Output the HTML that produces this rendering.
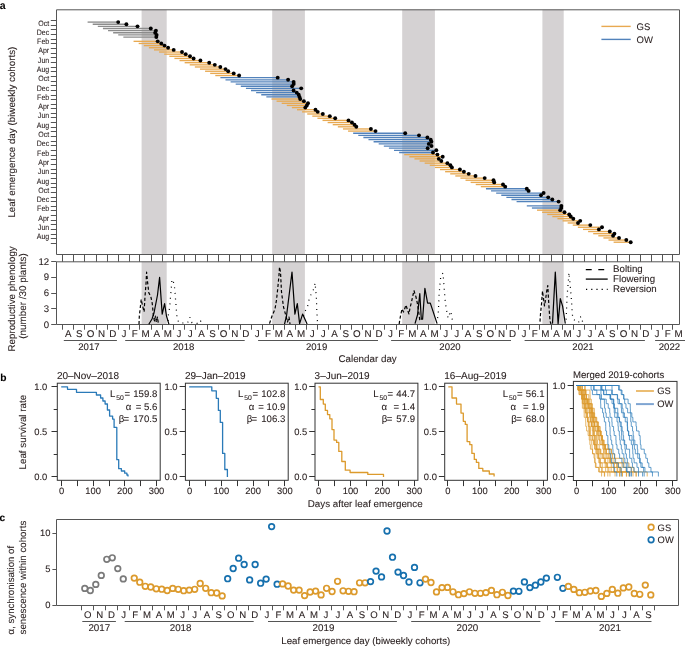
<!DOCTYPE html>
<html><head><meta charset="utf-8"><style>html,body{margin:0;padding:0;background:#fff;}svg{display:block;will-change:transform;}text{font-family:"Liberation Sans",sans-serif;stroke:#2b2222;stroke-width:0.08px;}</style></head><body>
<svg width="685" height="649" viewBox="0 0 685 649" font-family="Liberation Sans, sans-serif" text-rendering="geometricPrecision">
<rect width="685" height="649" fill="#fff"/>
<rect x="141.6" y="9.8" width="25.1" height="244.7" fill="#d5d2d3" stroke="none" stroke-width="1.0"/>
<rect x="141.6" y="261.8" width="25.1" height="62.7" fill="#d5d2d3" stroke="none" stroke-width="1.0"/>
<rect x="272.2" y="9.8" width="32.7" height="244.7" fill="#d5d2d3" stroke="none" stroke-width="1.0"/>
<rect x="272.2" y="261.8" width="32.7" height="62.7" fill="#d5d2d3" stroke="none" stroke-width="1.0"/>
<rect x="402.2" y="9.8" width="32.7" height="244.7" fill="#d5d2d3" stroke="none" stroke-width="1.0"/>
<rect x="402.2" y="261.8" width="32.7" height="62.7" fill="#d5d2d3" stroke="none" stroke-width="1.0"/>
<rect x="542.4" y="9.8" width="21.3" height="244.7" fill="#d5d2d3" stroke="none" stroke-width="1.0"/>
<rect x="542.4" y="261.8" width="21.3" height="62.7" fill="#d5d2d3" stroke="none" stroke-width="1.0"/>
<line x1="87.6" y1="22.1" x2="118.2" y2="22.1" stroke="#8c8c8c" stroke-width="1.35" />
<line x1="92.71" y1="24.24" x2="126.4" y2="24.24" stroke="#8c8c8c" stroke-width="1.35" />
<line x1="97.81" y1="26.37" x2="137.5" y2="26.37" stroke="#8c8c8c" stroke-width="1.35" />
<line x1="102.92" y1="28.51" x2="150.8" y2="28.51" stroke="#8c8c8c" stroke-width="1.35" />
<line x1="108.03" y1="30.65" x2="155.9" y2="30.65" stroke="#8c8c8c" stroke-width="1.35" />
<line x1="113.13" y1="32.79" x2="155.2" y2="32.79" stroke="#8c8c8c" stroke-width="1.35" />
<line x1="118.24" y1="34.92" x2="156.6" y2="34.92" stroke="#8c8c8c" stroke-width="1.35" />
<line x1="123.35" y1="37.06" x2="156.3" y2="37.06" stroke="#8c8c8c" stroke-width="1.35" />
<line x1="133.56" y1="41.33" x2="157.7" y2="41.33" stroke="#e8a951" stroke-width="1.35" />
<line x1="138.67" y1="43.47" x2="161.3" y2="43.47" stroke="#e8a951" stroke-width="1.35" />
<line x1="143.78" y1="45.61" x2="164.5" y2="45.61" stroke="#e8a951" stroke-width="1.35" />
<line x1="148.88" y1="47.74" x2="168.1" y2="47.74" stroke="#e8a951" stroke-width="1.35" />
<line x1="153.99" y1="49.88" x2="173.7" y2="49.88" stroke="#e8a951" stroke-width="1.35" />
<line x1="159.1" y1="52.02" x2="182" y2="52.02" stroke="#e8a951" stroke-width="1.35" />
<line x1="164.2" y1="54.16" x2="185.7" y2="54.16" stroke="#e8a951" stroke-width="1.35" />
<line x1="169.31" y1="56.29" x2="190" y2="56.29" stroke="#e8a951" stroke-width="1.35" />
<line x1="174.42" y1="58.43" x2="193.6" y2="58.43" stroke="#e8a951" stroke-width="1.35" />
<line x1="179.53" y1="60.57" x2="200.4" y2="60.57" stroke="#e8a951" stroke-width="1.35" />
<line x1="184.63" y1="62.7" x2="209.2" y2="62.7" stroke="#e8a951" stroke-width="1.35" />
<line x1="189.74" y1="64.84" x2="214.8" y2="64.84" stroke="#e8a951" stroke-width="1.35" />
<line x1="194.85" y1="66.98" x2="220.3" y2="66.98" stroke="#e8a951" stroke-width="1.35" />
<line x1="199.95" y1="69.11" x2="225.5" y2="69.11" stroke="#e8a951" stroke-width="1.35" />
<line x1="205.06" y1="71.25" x2="228.2" y2="71.25" stroke="#e8a951" stroke-width="1.35" />
<line x1="210.17" y1="73.39" x2="233.7" y2="73.39" stroke="#e8a951" stroke-width="1.35" />
<line x1="215.28" y1="75.53" x2="239.1" y2="75.53" stroke="#e8a951" stroke-width="1.35" />
<line x1="220.38" y1="77.66" x2="277.7" y2="77.66" stroke="#5282bb" stroke-width="1.35" />
<line x1="225.49" y1="79.8" x2="288.1" y2="79.8" stroke="#5282bb" stroke-width="1.35" />
<line x1="230.6" y1="81.94" x2="293.6" y2="81.94" stroke="#5282bb" stroke-width="1.35" />
<line x1="235.7" y1="84.07" x2="293.7" y2="84.07" stroke="#5282bb" stroke-width="1.35" />
<line x1="240.81" y1="86.21" x2="292.1" y2="86.21" stroke="#5282bb" stroke-width="1.35" />
<line x1="245.92" y1="88.35" x2="301.2" y2="88.35" stroke="#5282bb" stroke-width="1.35" />
<line x1="251.02" y1="90.48" x2="293.6" y2="90.48" stroke="#5282bb" stroke-width="1.35" />
<line x1="256.13" y1="92.62" x2="296.7" y2="92.62" stroke="#5282bb" stroke-width="1.35" />
<line x1="261.24" y1="94.76" x2="298.7" y2="94.76" stroke="#5282bb" stroke-width="1.35" />
<line x1="266.35" y1="96.9" x2="299.5" y2="96.9" stroke="#5282bb" stroke-width="1.35" />
<line x1="271.45" y1="99.03" x2="300.2" y2="99.03" stroke="#e8a951" stroke-width="1.35" />
<line x1="276.56" y1="101.17" x2="303.9" y2="101.17" stroke="#e8a951" stroke-width="1.35" />
<line x1="281.67" y1="103.31" x2="308" y2="103.31" stroke="#e8a951" stroke-width="1.35" />
<line x1="286.77" y1="105.44" x2="306.8" y2="105.44" stroke="#e8a951" stroke-width="1.35" />
<line x1="291.88" y1="107.58" x2="305.3" y2="107.58" stroke="#e8a951" stroke-width="1.35" />
<line x1="296.99" y1="109.72" x2="315.5" y2="109.72" stroke="#e8a951" stroke-width="1.35" />
<line x1="302.09" y1="111.85" x2="317.7" y2="111.85" stroke="#e8a951" stroke-width="1.35" />
<line x1="307.2" y1="113.99" x2="322.8" y2="113.99" stroke="#e8a951" stroke-width="1.35" />
<line x1="312.31" y1="116.13" x2="329.8" y2="116.13" stroke="#e8a951" stroke-width="1.35" />
<line x1="317.41" y1="118.27" x2="335.2" y2="118.27" stroke="#e8a951" stroke-width="1.35" />
<line x1="322.52" y1="120.4" x2="348.5" y2="120.4" stroke="#e8a951" stroke-width="1.35" />
<line x1="327.63" y1="122.54" x2="351.9" y2="122.54" stroke="#e8a951" stroke-width="1.35" />
<line x1="332.74" y1="124.68" x2="354.5" y2="124.68" stroke="#e8a951" stroke-width="1.35" />
<line x1="337.84" y1="126.81" x2="356.3" y2="126.81" stroke="#e8a951" stroke-width="1.35" />
<line x1="342.95" y1="128.95" x2="370.9" y2="128.95" stroke="#e8a951" stroke-width="1.35" />
<line x1="348.06" y1="131.09" x2="375.5" y2="131.09" stroke="#e8a951" stroke-width="1.35" />
<line x1="353.16" y1="133.22" x2="405.2" y2="133.22" stroke="#5282bb" stroke-width="1.35" />
<line x1="358.27" y1="135.36" x2="419" y2="135.36" stroke="#5282bb" stroke-width="1.35" />
<line x1="363.38" y1="137.5" x2="427.4" y2="137.5" stroke="#5282bb" stroke-width="1.35" />
<line x1="368.49" y1="139.63" x2="430.7" y2="139.63" stroke="#5282bb" stroke-width="1.35" />
<line x1="373.59" y1="141.77" x2="431.4" y2="141.77" stroke="#5282bb" stroke-width="1.35" />
<line x1="378.7" y1="143.91" x2="428.8" y2="143.91" stroke="#5282bb" stroke-width="1.35" />
<line x1="383.81" y1="146.05" x2="431.5" y2="146.05" stroke="#5282bb" stroke-width="1.35" />
<line x1="388.91" y1="148.18" x2="427.7" y2="148.18" stroke="#5282bb" stroke-width="1.35" />
<line x1="394.02" y1="150.32" x2="436.3" y2="150.32" stroke="#5282bb" stroke-width="1.35" />
<line x1="399.13" y1="152.46" x2="433" y2="152.46" stroke="#5282bb" stroke-width="1.35" />
<line x1="404.23" y1="154.59" x2="437.4" y2="154.59" stroke="#e8a951" stroke-width="1.35" />
<line x1="409.34" y1="156.73" x2="442.7" y2="156.73" stroke="#e8a951" stroke-width="1.35" />
<line x1="414.45" y1="158.87" x2="438.8" y2="158.87" stroke="#e8a951" stroke-width="1.35" />
<line x1="419.56" y1="161" x2="441.3" y2="161" stroke="#e8a951" stroke-width="1.35" />
<line x1="424.66" y1="163.14" x2="447.4" y2="163.14" stroke="#e8a951" stroke-width="1.35" />
<line x1="429.77" y1="165.28" x2="450.4" y2="165.28" stroke="#e8a951" stroke-width="1.35" />
<line x1="434.88" y1="167.42" x2="451.9" y2="167.42" stroke="#e8a951" stroke-width="1.35" />
<line x1="439.98" y1="169.55" x2="459.9" y2="169.55" stroke="#e8a951" stroke-width="1.35" />
<line x1="445.09" y1="171.69" x2="463.9" y2="171.69" stroke="#e8a951" stroke-width="1.35" />
<line x1="450.2" y1="173.83" x2="468.7" y2="173.83" stroke="#e8a951" stroke-width="1.35" />
<line x1="455.3" y1="175.96" x2="475.5" y2="175.96" stroke="#e8a951" stroke-width="1.35" />
<line x1="460.41" y1="178.1" x2="484.7" y2="178.1" stroke="#e8a951" stroke-width="1.35" />
<line x1="465.52" y1="180.24" x2="493.5" y2="180.24" stroke="#e8a951" stroke-width="1.35" />
<line x1="470.62" y1="182.38" x2="494.2" y2="182.38" stroke="#e8a951" stroke-width="1.35" />
<line x1="475.73" y1="184.51" x2="503" y2="184.51" stroke="#e8a951" stroke-width="1.35" />
<line x1="480.84" y1="186.65" x2="505.2" y2="186.65" stroke="#e8a951" stroke-width="1.35" />
<line x1="485.95" y1="188.79" x2="526.8" y2="188.79" stroke="#5282bb" stroke-width="1.35" />
<line x1="491.05" y1="190.92" x2="528.6" y2="190.92" stroke="#5282bb" stroke-width="1.35" />
<line x1="496.16" y1="193.06" x2="543.6" y2="193.06" stroke="#5282bb" stroke-width="1.35" />
<line x1="501.27" y1="195.2" x2="541" y2="195.2" stroke="#5282bb" stroke-width="1.35" />
<line x1="506.37" y1="197.33" x2="548.2" y2="197.33" stroke="#5282bb" stroke-width="1.35" />
<line x1="511.48" y1="199.47" x2="552.3" y2="199.47" stroke="#5282bb" stroke-width="1.35" />
<line x1="516.59" y1="201.61" x2="558.6" y2="201.61" stroke="#5282bb" stroke-width="1.35" />
<line x1="526.8" y1="205.88" x2="561.4" y2="205.88" stroke="#5282bb" stroke-width="1.35" />
<line x1="531.91" y1="208.02" x2="561.3" y2="208.02" stroke="#5282bb" stroke-width="1.35" />
<line x1="537.02" y1="210.16" x2="560.2" y2="210.16" stroke="#e8a951" stroke-width="1.35" />
<line x1="542.12" y1="212.29" x2="564.5" y2="212.29" stroke="#e8a951" stroke-width="1.35" />
<line x1="547.23" y1="214.43" x2="569.2" y2="214.43" stroke="#e8a951" stroke-width="1.35" />
<line x1="552.34" y1="216.57" x2="570.7" y2="216.57" stroke="#e8a951" stroke-width="1.35" />
<line x1="557.44" y1="218.7" x2="573.3" y2="218.7" stroke="#e8a951" stroke-width="1.35" />
<line x1="562.55" y1="220.84" x2="580.2" y2="220.84" stroke="#e8a951" stroke-width="1.35" />
<line x1="567.66" y1="222.98" x2="578" y2="222.98" stroke="#e8a951" stroke-width="1.35" />
<line x1="572.76" y1="225.12" x2="590.3" y2="225.12" stroke="#e8a951" stroke-width="1.35" />
<line x1="577.87" y1="227.25" x2="602" y2="227.25" stroke="#e8a951" stroke-width="1.35" />
<line x1="582.98" y1="229.39" x2="598.9" y2="229.39" stroke="#e8a951" stroke-width="1.35" />
<line x1="588.09" y1="231.53" x2="609.8" y2="231.53" stroke="#e8a951" stroke-width="1.35" />
<line x1="593.19" y1="233.66" x2="614.4" y2="233.66" stroke="#e8a951" stroke-width="1.35" />
<line x1="598.3" y1="235.8" x2="613.1" y2="235.8" stroke="#e8a951" stroke-width="1.35" />
<line x1="603.41" y1="237.94" x2="619" y2="237.94" stroke="#e8a951" stroke-width="1.35" />
<line x1="608.51" y1="240.07" x2="626.3" y2="240.07" stroke="#e8a951" stroke-width="1.35" />
<line x1="613.62" y1="242.21" x2="630.7" y2="242.21" stroke="#e8a951" stroke-width="1.35" />
<circle cx="118.2" cy="22.1" r="1.95" fill="#000"/>
<circle cx="126.4" cy="24.24" r="1.95" fill="#000"/>
<circle cx="137.5" cy="26.37" r="1.95" fill="#000"/>
<circle cx="150.8" cy="28.51" r="1.95" fill="#000"/>
<circle cx="155.9" cy="30.65" r="1.95" fill="#000"/>
<circle cx="155.2" cy="32.79" r="1.95" fill="#000"/>
<circle cx="156.6" cy="34.92" r="1.95" fill="#000"/>
<circle cx="156.3" cy="37.06" r="1.95" fill="#000"/>
<circle cx="157.7" cy="41.33" r="1.95" fill="#000"/>
<circle cx="161.3" cy="43.47" r="1.95" fill="#000"/>
<circle cx="164.5" cy="45.61" r="1.95" fill="#000"/>
<circle cx="168.1" cy="47.74" r="1.95" fill="#000"/>
<circle cx="173.7" cy="49.88" r="1.95" fill="#000"/>
<circle cx="182" cy="52.02" r="1.95" fill="#000"/>
<circle cx="185.7" cy="54.16" r="1.95" fill="#000"/>
<circle cx="190" cy="56.29" r="1.95" fill="#000"/>
<circle cx="193.6" cy="58.43" r="1.95" fill="#000"/>
<circle cx="200.4" cy="60.57" r="1.95" fill="#000"/>
<circle cx="209.2" cy="62.7" r="1.95" fill="#000"/>
<circle cx="214.8" cy="64.84" r="1.95" fill="#000"/>
<circle cx="220.3" cy="66.98" r="1.95" fill="#000"/>
<circle cx="225.5" cy="69.11" r="1.95" fill="#000"/>
<circle cx="228.2" cy="71.25" r="1.95" fill="#000"/>
<circle cx="233.7" cy="73.39" r="1.95" fill="#000"/>
<circle cx="239.1" cy="75.53" r="1.95" fill="#000"/>
<circle cx="277.7" cy="77.66" r="1.95" fill="#000"/>
<circle cx="288.1" cy="79.8" r="1.95" fill="#000"/>
<circle cx="293.6" cy="81.94" r="1.95" fill="#000"/>
<circle cx="293.7" cy="84.07" r="1.95" fill="#000"/>
<circle cx="292.1" cy="86.21" r="1.95" fill="#000"/>
<circle cx="301.2" cy="88.35" r="1.95" fill="#000"/>
<circle cx="293.6" cy="90.48" r="1.95" fill="#000"/>
<circle cx="296.7" cy="92.62" r="1.95" fill="#000"/>
<circle cx="298.7" cy="94.76" r="1.95" fill="#000"/>
<circle cx="299.5" cy="96.9" r="1.95" fill="#000"/>
<circle cx="300.2" cy="99.03" r="1.95" fill="#000"/>
<circle cx="303.9" cy="101.17" r="1.95" fill="#000"/>
<circle cx="308" cy="103.31" r="1.95" fill="#000"/>
<circle cx="306.8" cy="105.44" r="1.95" fill="#000"/>
<circle cx="305.3" cy="107.58" r="1.95" fill="#000"/>
<circle cx="315.5" cy="109.72" r="1.95" fill="#000"/>
<circle cx="317.7" cy="111.85" r="1.95" fill="#000"/>
<circle cx="322.8" cy="113.99" r="1.95" fill="#000"/>
<circle cx="329.8" cy="116.13" r="1.95" fill="#000"/>
<circle cx="335.2" cy="118.27" r="1.95" fill="#000"/>
<circle cx="348.5" cy="120.4" r="1.95" fill="#000"/>
<circle cx="351.9" cy="122.54" r="1.95" fill="#000"/>
<circle cx="354.5" cy="124.68" r="1.95" fill="#000"/>
<circle cx="356.3" cy="126.81" r="1.95" fill="#000"/>
<circle cx="370.9" cy="128.95" r="1.95" fill="#000"/>
<circle cx="375.5" cy="131.09" r="1.95" fill="#000"/>
<circle cx="405.2" cy="133.22" r="1.95" fill="#000"/>
<circle cx="419" cy="135.36" r="1.95" fill="#000"/>
<circle cx="427.4" cy="137.5" r="1.95" fill="#000"/>
<circle cx="430.7" cy="139.63" r="1.95" fill="#000"/>
<circle cx="431.4" cy="141.77" r="1.95" fill="#000"/>
<circle cx="428.8" cy="143.91" r="1.95" fill="#000"/>
<circle cx="431.5" cy="146.05" r="1.95" fill="#000"/>
<circle cx="427.7" cy="148.18" r="1.95" fill="#000"/>
<circle cx="436.3" cy="150.32" r="1.95" fill="#000"/>
<circle cx="433" cy="152.46" r="1.95" fill="#000"/>
<circle cx="437.4" cy="154.59" r="1.95" fill="#000"/>
<circle cx="442.7" cy="156.73" r="1.95" fill="#000"/>
<circle cx="438.8" cy="158.87" r="1.95" fill="#000"/>
<circle cx="441.3" cy="161" r="1.95" fill="#000"/>
<circle cx="447.4" cy="163.14" r="1.95" fill="#000"/>
<circle cx="450.4" cy="165.28" r="1.95" fill="#000"/>
<circle cx="451.9" cy="167.42" r="1.95" fill="#000"/>
<circle cx="459.9" cy="169.55" r="1.95" fill="#000"/>
<circle cx="463.9" cy="171.69" r="1.95" fill="#000"/>
<circle cx="468.7" cy="173.83" r="1.95" fill="#000"/>
<circle cx="475.5" cy="175.96" r="1.95" fill="#000"/>
<circle cx="484.7" cy="178.1" r="1.95" fill="#000"/>
<circle cx="493.5" cy="180.24" r="1.95" fill="#000"/>
<circle cx="494.2" cy="182.38" r="1.95" fill="#000"/>
<circle cx="503" cy="184.51" r="1.95" fill="#000"/>
<circle cx="505.2" cy="186.65" r="1.95" fill="#000"/>
<circle cx="526.8" cy="188.79" r="1.95" fill="#000"/>
<circle cx="528.6" cy="190.92" r="1.95" fill="#000"/>
<circle cx="543.6" cy="193.06" r="1.95" fill="#000"/>
<circle cx="541" cy="195.2" r="1.95" fill="#000"/>
<circle cx="548.2" cy="197.33" r="1.95" fill="#000"/>
<circle cx="552.3" cy="199.47" r="1.95" fill="#000"/>
<circle cx="558.6" cy="201.61" r="1.95" fill="#000"/>
<circle cx="561.4" cy="205.88" r="1.95" fill="#000"/>
<circle cx="561.3" cy="208.02" r="1.95" fill="#000"/>
<circle cx="560.2" cy="210.16" r="1.95" fill="#000"/>
<circle cx="564.5" cy="212.29" r="1.95" fill="#000"/>
<circle cx="569.2" cy="214.43" r="1.95" fill="#000"/>
<circle cx="570.7" cy="216.57" r="1.95" fill="#000"/>
<circle cx="573.3" cy="218.7" r="1.95" fill="#000"/>
<circle cx="580.2" cy="220.84" r="1.95" fill="#000"/>
<circle cx="578" cy="222.98" r="1.95" fill="#000"/>
<circle cx="590.3" cy="225.12" r="1.95" fill="#000"/>
<circle cx="602" cy="227.25" r="1.95" fill="#000"/>
<circle cx="598.9" cy="229.39" r="1.95" fill="#000"/>
<circle cx="609.8" cy="231.53" r="1.95" fill="#000"/>
<circle cx="614.4" cy="233.66" r="1.95" fill="#000"/>
<circle cx="613.1" cy="235.8" r="1.95" fill="#000"/>
<circle cx="619" cy="237.94" r="1.95" fill="#000"/>
<circle cx="626.3" cy="240.07" r="1.95" fill="#000"/>
<circle cx="630.7" cy="242.21" r="1.95" fill="#000"/>
<path d="M56.5,9.8 H679.5 V254.5 H56.5 Z" fill="none" stroke="#555555" stroke-width="1"/>
<path d="M56.5,261.8 H679.5 V324.5 H56.5 Z" fill="none" stroke="#555555" stroke-width="1"/>
<line x1="50.8" y1="20.5" x2="56.5" y2="20.5" stroke="#555555" stroke-width="1" />
<line x1="50.8" y1="25.5" x2="56.5" y2="25.5" stroke="#555555" stroke-width="1" />
<line x1="50.8" y1="29.5" x2="56.5" y2="29.5" stroke="#555555" stroke-width="1" />
<line x1="50.8" y1="34.5" x2="56.5" y2="34.5" stroke="#555555" stroke-width="1" />
<line x1="50.8" y1="39.5" x2="56.5" y2="39.5" stroke="#555555" stroke-width="1" />
<line x1="50.8" y1="43.5" x2="56.5" y2="43.5" stroke="#555555" stroke-width="1" />
<line x1="50.8" y1="48.5" x2="56.5" y2="48.5" stroke="#555555" stroke-width="1" />
<line x1="50.8" y1="53.5" x2="56.5" y2="53.5" stroke="#555555" stroke-width="1" />
<line x1="50.8" y1="57.5" x2="56.5" y2="57.5" stroke="#555555" stroke-width="1" />
<line x1="50.8" y1="62.5" x2="56.5" y2="62.5" stroke="#555555" stroke-width="1" />
<line x1="50.8" y1="67.5" x2="56.5" y2="67.5" stroke="#555555" stroke-width="1" />
<line x1="50.8" y1="71.5" x2="56.5" y2="71.5" stroke="#555555" stroke-width="1" />
<line x1="50.8" y1="76.5" x2="56.5" y2="76.5" stroke="#555555" stroke-width="1" />
<line x1="50.8" y1="81.5" x2="56.5" y2="81.5" stroke="#555555" stroke-width="1" />
<line x1="50.8" y1="85.5" x2="56.5" y2="85.5" stroke="#555555" stroke-width="1" />
<line x1="50.8" y1="90.5" x2="56.5" y2="90.5" stroke="#555555" stroke-width="1" />
<line x1="50.8" y1="95.5" x2="56.5" y2="95.5" stroke="#555555" stroke-width="1" />
<line x1="50.8" y1="99.5" x2="56.5" y2="99.5" stroke="#555555" stroke-width="1" />
<line x1="50.8" y1="104.5" x2="56.5" y2="104.5" stroke="#555555" stroke-width="1" />
<line x1="50.8" y1="108.5" x2="56.5" y2="108.5" stroke="#555555" stroke-width="1" />
<line x1="50.8" y1="113.5" x2="56.5" y2="113.5" stroke="#555555" stroke-width="1" />
<line x1="50.8" y1="117.5" x2="56.5" y2="117.5" stroke="#555555" stroke-width="1" />
<line x1="50.8" y1="122.5" x2="56.5" y2="122.5" stroke="#555555" stroke-width="1" />
<line x1="50.8" y1="127.5" x2="56.5" y2="127.5" stroke="#555555" stroke-width="1" />
<line x1="50.8" y1="131.5" x2="56.5" y2="131.5" stroke="#555555" stroke-width="1" />
<line x1="50.8" y1="136.5" x2="56.5" y2="136.5" stroke="#555555" stroke-width="1" />
<line x1="50.8" y1="141.5" x2="56.5" y2="141.5" stroke="#555555" stroke-width="1" />
<line x1="50.8" y1="145.5" x2="56.5" y2="145.5" stroke="#555555" stroke-width="1" />
<line x1="50.8" y1="150.5" x2="56.5" y2="150.5" stroke="#555555" stroke-width="1" />
<line x1="50.8" y1="155.5" x2="56.5" y2="155.5" stroke="#555555" stroke-width="1" />
<line x1="50.8" y1="159.5" x2="56.5" y2="159.5" stroke="#555555" stroke-width="1" />
<line x1="50.8" y1="164.5" x2="56.5" y2="164.5" stroke="#555555" stroke-width="1" />
<line x1="50.8" y1="169.5" x2="56.5" y2="169.5" stroke="#555555" stroke-width="1" />
<line x1="50.8" y1="173.5" x2="56.5" y2="173.5" stroke="#555555" stroke-width="1" />
<line x1="50.8" y1="178.5" x2="56.5" y2="178.5" stroke="#555555" stroke-width="1" />
<line x1="50.8" y1="183.5" x2="56.5" y2="183.5" stroke="#555555" stroke-width="1" />
<line x1="50.8" y1="187.5" x2="56.5" y2="187.5" stroke="#555555" stroke-width="1" />
<line x1="50.8" y1="192.5" x2="56.5" y2="192.5" stroke="#555555" stroke-width="1" />
<line x1="50.8" y1="197.5" x2="56.5" y2="197.5" stroke="#555555" stroke-width="1" />
<line x1="50.8" y1="201.5" x2="56.5" y2="201.5" stroke="#555555" stroke-width="1" />
<line x1="50.8" y1="206.5" x2="56.5" y2="206.5" stroke="#555555" stroke-width="1" />
<line x1="50.8" y1="210.5" x2="56.5" y2="210.5" stroke="#555555" stroke-width="1" />
<line x1="50.8" y1="215.5" x2="56.5" y2="215.5" stroke="#555555" stroke-width="1" />
<line x1="50.8" y1="220.5" x2="56.5" y2="220.5" stroke="#555555" stroke-width="1" />
<line x1="50.8" y1="224.5" x2="56.5" y2="224.5" stroke="#555555" stroke-width="1" />
<line x1="50.8" y1="229.5" x2="56.5" y2="229.5" stroke="#555555" stroke-width="1" />
<line x1="50.8" y1="234.5" x2="56.5" y2="234.5" stroke="#555555" stroke-width="1" />
<line x1="50.8" y1="238.5" x2="56.5" y2="238.5" stroke="#555555" stroke-width="1" />
<line x1="50.8" y1="243.5" x2="56.5" y2="243.5" stroke="#555555" stroke-width="1" />
<text x="49.2" y="25.81" font-size="7.8" text-anchor="end" fill="#2b2222" transform="translate(49.2 0) scale(0.9 1) translate(-49.2 0)">Oct</text>
<text x="49.2" y="35.11" font-size="7.8" text-anchor="end" fill="#2b2222" transform="translate(49.2 0) scale(0.9 1) translate(-49.2 0)">Dec</text>
<text x="49.2" y="44.33" font-size="7.8" text-anchor="end" fill="#2b2222" transform="translate(49.2 0) scale(0.9 1) translate(-49.2 0)">Feb</text>
<text x="49.2" y="53.48" font-size="7.8" text-anchor="end" fill="#2b2222" transform="translate(49.2 0) scale(0.9 1) translate(-49.2 0)">Apr</text>
<text x="49.2" y="62.78" font-size="7.8" text-anchor="end" fill="#2b2222" transform="translate(49.2 0) scale(0.9 1) translate(-49.2 0)">Jun</text>
<text x="49.2" y="72.15" font-size="7.8" text-anchor="end" fill="#2b2222" transform="translate(49.2 0) scale(0.9 1) translate(-49.2 0)">Aug</text>
<text x="49.2" y="81.45" font-size="7.8" text-anchor="end" fill="#2b2222" transform="translate(49.2 0) scale(0.9 1) translate(-49.2 0)">Oct</text>
<text x="49.2" y="90.75" font-size="7.8" text-anchor="end" fill="#2b2222" transform="translate(49.2 0) scale(0.9 1) translate(-49.2 0)">Dec</text>
<text x="49.2" y="99.97" font-size="7.8" text-anchor="end" fill="#2b2222" transform="translate(49.2 0) scale(0.9 1) translate(-49.2 0)">Feb</text>
<text x="49.2" y="109.12" font-size="7.8" text-anchor="end" fill="#2b2222" transform="translate(49.2 0) scale(0.9 1) translate(-49.2 0)">Apr</text>
<text x="49.2" y="118.41" font-size="7.8" text-anchor="end" fill="#2b2222" transform="translate(49.2 0) scale(0.9 1) translate(-49.2 0)">Jun</text>
<text x="49.2" y="127.79" font-size="7.8" text-anchor="end" fill="#2b2222" transform="translate(49.2 0) scale(0.9 1) translate(-49.2 0)">Aug</text>
<text x="49.2" y="137.09" font-size="7.8" text-anchor="end" fill="#2b2222" transform="translate(49.2 0) scale(0.9 1) translate(-49.2 0)">Oct</text>
<text x="49.2" y="146.38" font-size="7.8" text-anchor="end" fill="#2b2222" transform="translate(49.2 0) scale(0.9 1) translate(-49.2 0)">Dec</text>
<text x="49.2" y="155.68" font-size="7.8" text-anchor="end" fill="#2b2222" transform="translate(49.2 0) scale(0.9 1) translate(-49.2 0)">Feb</text>
<text x="49.2" y="164.91" font-size="7.8" text-anchor="end" fill="#2b2222" transform="translate(49.2 0) scale(0.9 1) translate(-49.2 0)">Apr</text>
<text x="49.2" y="174.2" font-size="7.8" text-anchor="end" fill="#2b2222" transform="translate(49.2 0) scale(0.9 1) translate(-49.2 0)">Jun</text>
<text x="49.2" y="183.58" font-size="7.8" text-anchor="end" fill="#2b2222" transform="translate(49.2 0) scale(0.9 1) translate(-49.2 0)">Aug</text>
<text x="49.2" y="192.88" font-size="7.8" text-anchor="end" fill="#2b2222" transform="translate(49.2 0) scale(0.9 1) translate(-49.2 0)">Oct</text>
<text x="49.2" y="202.17" font-size="7.8" text-anchor="end" fill="#2b2222" transform="translate(49.2 0) scale(0.9 1) translate(-49.2 0)">Dec</text>
<text x="49.2" y="211.4" font-size="7.8" text-anchor="end" fill="#2b2222" transform="translate(49.2 0) scale(0.9 1) translate(-49.2 0)">Feb</text>
<text x="49.2" y="220.54" font-size="7.8" text-anchor="end" fill="#2b2222" transform="translate(49.2 0) scale(0.9 1) translate(-49.2 0)">Apr</text>
<text x="49.2" y="229.84" font-size="7.8" text-anchor="end" fill="#2b2222" transform="translate(49.2 0) scale(0.9 1) translate(-49.2 0)">Jun</text>
<text x="49.2" y="239.21" font-size="7.8" text-anchor="end" fill="#2b2222" transform="translate(49.2 0) scale(0.9 1) translate(-49.2 0)">Aug</text>
<line x1="62.5" y1="254.5" x2="62.5" y2="261.8" stroke="#555555" stroke-width="1" />
<line x1="62.5" y1="324.5" x2="62.5" y2="329.7" stroke="#555555" stroke-width="1" />
<line x1="73.5" y1="254.5" x2="73.5" y2="261.8" stroke="#555555" stroke-width="1" />
<line x1="73.5" y1="324.5" x2="73.5" y2="329.7" stroke="#555555" stroke-width="1" />
<line x1="84.5" y1="254.5" x2="84.5" y2="261.8" stroke="#555555" stroke-width="1" />
<line x1="84.5" y1="324.5" x2="84.5" y2="329.7" stroke="#555555" stroke-width="1" />
<line x1="96.5" y1="254.5" x2="96.5" y2="261.8" stroke="#555555" stroke-width="1" />
<line x1="96.5" y1="324.5" x2="96.5" y2="329.7" stroke="#555555" stroke-width="1" />
<line x1="107.5" y1="254.5" x2="107.5" y2="261.8" stroke="#555555" stroke-width="1" />
<line x1="107.5" y1="324.5" x2="107.5" y2="329.7" stroke="#555555" stroke-width="1" />
<line x1="118.5" y1="254.5" x2="118.5" y2="261.8" stroke="#555555" stroke-width="1" />
<line x1="118.5" y1="324.5" x2="118.5" y2="329.7" stroke="#555555" stroke-width="1" />
<line x1="129.5" y1="254.5" x2="129.5" y2="261.8" stroke="#555555" stroke-width="1" />
<line x1="129.5" y1="324.5" x2="129.5" y2="329.7" stroke="#555555" stroke-width="1" />
<line x1="139.5" y1="254.5" x2="139.5" y2="261.8" stroke="#555555" stroke-width="1" />
<line x1="139.5" y1="324.5" x2="139.5" y2="329.7" stroke="#555555" stroke-width="1" />
<line x1="151.5" y1="254.5" x2="151.5" y2="261.8" stroke="#555555" stroke-width="1" />
<line x1="151.5" y1="324.5" x2="151.5" y2="329.7" stroke="#555555" stroke-width="1" />
<line x1="162.5" y1="254.5" x2="162.5" y2="261.8" stroke="#555555" stroke-width="1" />
<line x1="162.5" y1="324.5" x2="162.5" y2="329.7" stroke="#555555" stroke-width="1" />
<line x1="173.5" y1="254.5" x2="173.5" y2="261.8" stroke="#555555" stroke-width="1" />
<line x1="173.5" y1="324.5" x2="173.5" y2="329.7" stroke="#555555" stroke-width="1" />
<line x1="184.5" y1="254.5" x2="184.5" y2="261.8" stroke="#555555" stroke-width="1" />
<line x1="184.5" y1="324.5" x2="184.5" y2="329.7" stroke="#555555" stroke-width="1" />
<line x1="195.5" y1="254.5" x2="195.5" y2="261.8" stroke="#555555" stroke-width="1" />
<line x1="195.5" y1="324.5" x2="195.5" y2="329.7" stroke="#555555" stroke-width="1" />
<line x1="207.5" y1="254.5" x2="207.5" y2="261.8" stroke="#555555" stroke-width="1" />
<line x1="207.5" y1="324.5" x2="207.5" y2="329.7" stroke="#555555" stroke-width="1" />
<line x1="218.5" y1="254.5" x2="218.5" y2="261.8" stroke="#555555" stroke-width="1" />
<line x1="218.5" y1="324.5" x2="218.5" y2="329.7" stroke="#555555" stroke-width="1" />
<line x1="229.5" y1="254.5" x2="229.5" y2="261.8" stroke="#555555" stroke-width="1" />
<line x1="229.5" y1="324.5" x2="229.5" y2="329.7" stroke="#555555" stroke-width="1" />
<line x1="240.5" y1="254.5" x2="240.5" y2="261.8" stroke="#555555" stroke-width="1" />
<line x1="240.5" y1="324.5" x2="240.5" y2="329.7" stroke="#555555" stroke-width="1" />
<line x1="251.5" y1="254.5" x2="251.5" y2="261.8" stroke="#555555" stroke-width="1" />
<line x1="251.5" y1="324.5" x2="251.5" y2="329.7" stroke="#555555" stroke-width="1" />
<line x1="262.5" y1="254.5" x2="262.5" y2="261.8" stroke="#555555" stroke-width="1" />
<line x1="262.5" y1="324.5" x2="262.5" y2="329.7" stroke="#555555" stroke-width="1" />
<line x1="273.5" y1="254.5" x2="273.5" y2="261.8" stroke="#555555" stroke-width="1" />
<line x1="273.5" y1="324.5" x2="273.5" y2="329.7" stroke="#555555" stroke-width="1" />
<line x1="284.5" y1="254.5" x2="284.5" y2="261.8" stroke="#555555" stroke-width="1" />
<line x1="284.5" y1="324.5" x2="284.5" y2="329.7" stroke="#555555" stroke-width="1" />
<line x1="295.5" y1="254.5" x2="295.5" y2="261.8" stroke="#555555" stroke-width="1" />
<line x1="295.5" y1="324.5" x2="295.5" y2="329.7" stroke="#555555" stroke-width="1" />
<line x1="306.5" y1="254.5" x2="306.5" y2="261.8" stroke="#555555" stroke-width="1" />
<line x1="306.5" y1="324.5" x2="306.5" y2="329.7" stroke="#555555" stroke-width="1" />
<line x1="317.5" y1="254.5" x2="317.5" y2="261.8" stroke="#555555" stroke-width="1" />
<line x1="317.5" y1="324.5" x2="317.5" y2="329.7" stroke="#555555" stroke-width="1" />
<line x1="328.5" y1="254.5" x2="328.5" y2="261.8" stroke="#555555" stroke-width="1" />
<line x1="328.5" y1="324.5" x2="328.5" y2="329.7" stroke="#555555" stroke-width="1" />
<line x1="340.5" y1="254.5" x2="340.5" y2="261.8" stroke="#555555" stroke-width="1" />
<line x1="340.5" y1="324.5" x2="340.5" y2="329.7" stroke="#555555" stroke-width="1" />
<line x1="351.5" y1="254.5" x2="351.5" y2="261.8" stroke="#555555" stroke-width="1" />
<line x1="351.5" y1="324.5" x2="351.5" y2="329.7" stroke="#555555" stroke-width="1" />
<line x1="362.5" y1="254.5" x2="362.5" y2="261.8" stroke="#555555" stroke-width="1" />
<line x1="362.5" y1="324.5" x2="362.5" y2="329.7" stroke="#555555" stroke-width="1" />
<line x1="373.5" y1="254.5" x2="373.5" y2="261.8" stroke="#555555" stroke-width="1" />
<line x1="373.5" y1="324.5" x2="373.5" y2="329.7" stroke="#555555" stroke-width="1" />
<line x1="384.5" y1="254.5" x2="384.5" y2="261.8" stroke="#555555" stroke-width="1" />
<line x1="384.5" y1="324.5" x2="384.5" y2="329.7" stroke="#555555" stroke-width="1" />
<line x1="396.5" y1="254.5" x2="396.5" y2="261.8" stroke="#555555" stroke-width="1" />
<line x1="396.5" y1="324.5" x2="396.5" y2="329.7" stroke="#555555" stroke-width="1" />
<line x1="406.5" y1="254.5" x2="406.5" y2="261.8" stroke="#555555" stroke-width="1" />
<line x1="406.5" y1="324.5" x2="406.5" y2="329.7" stroke="#555555" stroke-width="1" />
<line x1="417.5" y1="254.5" x2="417.5" y2="261.8" stroke="#555555" stroke-width="1" />
<line x1="417.5" y1="324.5" x2="417.5" y2="329.7" stroke="#555555" stroke-width="1" />
<line x1="428.5" y1="254.5" x2="428.5" y2="261.8" stroke="#555555" stroke-width="1" />
<line x1="428.5" y1="324.5" x2="428.5" y2="329.7" stroke="#555555" stroke-width="1" />
<line x1="440.5" y1="254.5" x2="440.5" y2="261.8" stroke="#555555" stroke-width="1" />
<line x1="440.5" y1="324.5" x2="440.5" y2="329.7" stroke="#555555" stroke-width="1" />
<line x1="451.5" y1="254.5" x2="451.5" y2="261.8" stroke="#555555" stroke-width="1" />
<line x1="451.5" y1="324.5" x2="451.5" y2="329.7" stroke="#555555" stroke-width="1" />
<line x1="462.5" y1="254.5" x2="462.5" y2="261.8" stroke="#555555" stroke-width="1" />
<line x1="462.5" y1="324.5" x2="462.5" y2="329.7" stroke="#555555" stroke-width="1" />
<line x1="473.5" y1="254.5" x2="473.5" y2="261.8" stroke="#555555" stroke-width="1" />
<line x1="473.5" y1="324.5" x2="473.5" y2="329.7" stroke="#555555" stroke-width="1" />
<line x1="484.5" y1="254.5" x2="484.5" y2="261.8" stroke="#555555" stroke-width="1" />
<line x1="484.5" y1="324.5" x2="484.5" y2="329.7" stroke="#555555" stroke-width="1" />
<line x1="495.5" y1="254.5" x2="495.5" y2="261.8" stroke="#555555" stroke-width="1" />
<line x1="495.5" y1="324.5" x2="495.5" y2="329.7" stroke="#555555" stroke-width="1" />
<line x1="506.5" y1="254.5" x2="506.5" y2="261.8" stroke="#555555" stroke-width="1" />
<line x1="506.5" y1="324.5" x2="506.5" y2="329.7" stroke="#555555" stroke-width="1" />
<line x1="518.5" y1="254.5" x2="518.5" y2="261.8" stroke="#555555" stroke-width="1" />
<line x1="518.5" y1="324.5" x2="518.5" y2="329.7" stroke="#555555" stroke-width="1" />
<line x1="529.5" y1="254.5" x2="529.5" y2="261.8" stroke="#555555" stroke-width="1" />
<line x1="529.5" y1="324.5" x2="529.5" y2="329.7" stroke="#555555" stroke-width="1" />
<line x1="539.5" y1="254.5" x2="539.5" y2="261.8" stroke="#555555" stroke-width="1" />
<line x1="539.5" y1="324.5" x2="539.5" y2="329.7" stroke="#555555" stroke-width="1" />
<line x1="551.5" y1="254.5" x2="551.5" y2="261.8" stroke="#555555" stroke-width="1" />
<line x1="551.5" y1="324.5" x2="551.5" y2="329.7" stroke="#555555" stroke-width="1" />
<line x1="562.5" y1="254.5" x2="562.5" y2="261.8" stroke="#555555" stroke-width="1" />
<line x1="562.5" y1="324.5" x2="562.5" y2="329.7" stroke="#555555" stroke-width="1" />
<line x1="573.5" y1="254.5" x2="573.5" y2="261.8" stroke="#555555" stroke-width="1" />
<line x1="573.5" y1="324.5" x2="573.5" y2="329.7" stroke="#555555" stroke-width="1" />
<line x1="584.5" y1="254.5" x2="584.5" y2="261.8" stroke="#555555" stroke-width="1" />
<line x1="584.5" y1="324.5" x2="584.5" y2="329.7" stroke="#555555" stroke-width="1" />
<line x1="595.5" y1="254.5" x2="595.5" y2="261.8" stroke="#555555" stroke-width="1" />
<line x1="595.5" y1="324.5" x2="595.5" y2="329.7" stroke="#555555" stroke-width="1" />
<line x1="606.5" y1="254.5" x2="606.5" y2="261.8" stroke="#555555" stroke-width="1" />
<line x1="606.5" y1="324.5" x2="606.5" y2="329.7" stroke="#555555" stroke-width="1" />
<line x1="617.5" y1="254.5" x2="617.5" y2="261.8" stroke="#555555" stroke-width="1" />
<line x1="617.5" y1="324.5" x2="617.5" y2="329.7" stroke="#555555" stroke-width="1" />
<line x1="629.5" y1="254.5" x2="629.5" y2="261.8" stroke="#555555" stroke-width="1" />
<line x1="629.5" y1="324.5" x2="629.5" y2="329.7" stroke="#555555" stroke-width="1" />
<line x1="640.5" y1="254.5" x2="640.5" y2="261.8" stroke="#555555" stroke-width="1" />
<line x1="640.5" y1="324.5" x2="640.5" y2="329.7" stroke="#555555" stroke-width="1" />
<line x1="651.5" y1="254.5" x2="651.5" y2="261.8" stroke="#555555" stroke-width="1" />
<line x1="651.5" y1="324.5" x2="651.5" y2="329.7" stroke="#555555" stroke-width="1" />
<line x1="662.5" y1="254.5" x2="662.5" y2="261.8" stroke="#555555" stroke-width="1" />
<line x1="662.5" y1="324.5" x2="662.5" y2="329.7" stroke="#555555" stroke-width="1" />
<line x1="672.5" y1="254.5" x2="672.5" y2="261.8" stroke="#555555" stroke-width="1" />
<line x1="672.5" y1="324.5" x2="672.5" y2="329.7" stroke="#555555" stroke-width="1" />
<line x1="51.2" y1="324.5" x2="56.5" y2="324.5" stroke="#555555" stroke-width="1" />
<text x="49.2" y="327.5" font-size="9.6" text-anchor="end" fill="#2b2222" >0</text>
<line x1="51.2" y1="308.5" x2="56.5" y2="308.5" stroke="#555555" stroke-width="1" />
<text x="49.2" y="311.82" font-size="9.6" text-anchor="end" fill="#2b2222" >3</text>
<line x1="51.2" y1="293.5" x2="56.5" y2="293.5" stroke="#555555" stroke-width="1" />
<text x="49.2" y="296.15" font-size="9.6" text-anchor="end" fill="#2b2222" >6</text>
<line x1="51.2" y1="277.5" x2="56.5" y2="277.5" stroke="#555555" stroke-width="1" />
<text x="49.2" y="280.48" font-size="9.6" text-anchor="end" fill="#2b2222" >9</text>
<line x1="51.2" y1="261.5" x2="56.5" y2="261.5" stroke="#555555" stroke-width="1" />
<text x="49.2" y="264.8" font-size="9.6" text-anchor="end" fill="#2b2222" >12</text>
<text x="68.25" y="337.3" font-size="9.8" text-anchor="middle" fill="#2b2222" >A</text>
<text x="79.38" y="337.3" font-size="9.8" text-anchor="middle" fill="#2b2222" >S</text>
<text x="90.51" y="337.3" font-size="9.8" text-anchor="middle" fill="#2b2222" >O</text>
<text x="101.63" y="337.3" font-size="9.8" text-anchor="middle" fill="#2b2222" >N</text>
<text x="112.76" y="337.3" font-size="9.8" text-anchor="middle" fill="#2b2222" >D</text>
<text x="124.07" y="337.3" font-size="9.8" text-anchor="middle" fill="#2b2222" >J</text>
<text x="134.83" y="337.3" font-size="9.8" text-anchor="middle" fill="#2b2222" >F</text>
<text x="145.59" y="337.3" font-size="9.8" text-anchor="middle" fill="#2b2222" >M</text>
<text x="156.72" y="337.3" font-size="9.8" text-anchor="middle" fill="#2b2222" >A</text>
<text x="167.84" y="337.3" font-size="9.8" text-anchor="middle" fill="#2b2222" >M</text>
<text x="178.97" y="337.3" font-size="9.8" text-anchor="middle" fill="#2b2222" >J</text>
<text x="190.1" y="337.3" font-size="9.8" text-anchor="middle" fill="#2b2222" >J</text>
<text x="201.41" y="337.3" font-size="9.8" text-anchor="middle" fill="#2b2222" >A</text>
<text x="212.53" y="337.3" font-size="9.8" text-anchor="middle" fill="#2b2222" >S</text>
<text x="223.66" y="337.3" font-size="9.8" text-anchor="middle" fill="#2b2222" >O</text>
<text x="234.79" y="337.3" font-size="9.8" text-anchor="middle" fill="#2b2222" >N</text>
<text x="245.91" y="337.3" font-size="9.8" text-anchor="middle" fill="#2b2222" >D</text>
<text x="257.22" y="337.3" font-size="9.8" text-anchor="middle" fill="#2b2222" >J</text>
<text x="267.98" y="337.3" font-size="9.8" text-anchor="middle" fill="#2b2222" >F</text>
<text x="278.74" y="337.3" font-size="9.8" text-anchor="middle" fill="#2b2222" >M</text>
<text x="289.87" y="337.3" font-size="9.8" text-anchor="middle" fill="#2b2222" >A</text>
<text x="301" y="337.3" font-size="9.8" text-anchor="middle" fill="#2b2222" >M</text>
<text x="312.12" y="337.3" font-size="9.8" text-anchor="middle" fill="#2b2222" >J</text>
<text x="323.25" y="337.3" font-size="9.8" text-anchor="middle" fill="#2b2222" >J</text>
<text x="334.56" y="337.3" font-size="9.8" text-anchor="middle" fill="#2b2222" >A</text>
<text x="345.68" y="337.3" font-size="9.8" text-anchor="middle" fill="#2b2222" >S</text>
<text x="356.81" y="337.3" font-size="9.8" text-anchor="middle" fill="#2b2222" >O</text>
<text x="367.94" y="337.3" font-size="9.8" text-anchor="middle" fill="#2b2222" >N</text>
<text x="379.06" y="337.3" font-size="9.8" text-anchor="middle" fill="#2b2222" >D</text>
<text x="390.37" y="337.3" font-size="9.8" text-anchor="middle" fill="#2b2222" >J</text>
<text x="401.32" y="337.3" font-size="9.8" text-anchor="middle" fill="#2b2222" >F</text>
<text x="412.26" y="337.3" font-size="9.8" text-anchor="middle" fill="#2b2222" >M</text>
<text x="423.39" y="337.3" font-size="9.8" text-anchor="middle" fill="#2b2222" >A</text>
<text x="434.51" y="337.3" font-size="9.8" text-anchor="middle" fill="#2b2222" >M</text>
<text x="445.64" y="337.3" font-size="9.8" text-anchor="middle" fill="#2b2222" >J</text>
<text x="456.77" y="337.3" font-size="9.8" text-anchor="middle" fill="#2b2222" >J</text>
<text x="468.08" y="337.3" font-size="9.8" text-anchor="middle" fill="#2b2222" >A</text>
<text x="479.2" y="337.3" font-size="9.8" text-anchor="middle" fill="#2b2222" >S</text>
<text x="490.33" y="337.3" font-size="9.8" text-anchor="middle" fill="#2b2222" >O</text>
<text x="501.45" y="337.3" font-size="9.8" text-anchor="middle" fill="#2b2222" >N</text>
<text x="512.58" y="337.3" font-size="9.8" text-anchor="middle" fill="#2b2222" >D</text>
<text x="523.89" y="337.3" font-size="9.8" text-anchor="middle" fill="#2b2222" >J</text>
<text x="534.65" y="337.3" font-size="9.8" text-anchor="middle" fill="#2b2222" >F</text>
<text x="545.41" y="337.3" font-size="9.8" text-anchor="middle" fill="#2b2222" >M</text>
<text x="556.54" y="337.3" font-size="9.8" text-anchor="middle" fill="#2b2222" >A</text>
<text x="567.67" y="337.3" font-size="9.8" text-anchor="middle" fill="#2b2222" >M</text>
<text x="578.79" y="337.3" font-size="9.8" text-anchor="middle" fill="#2b2222" >J</text>
<text x="589.92" y="337.3" font-size="9.8" text-anchor="middle" fill="#2b2222" >J</text>
<text x="601.23" y="337.3" font-size="9.8" text-anchor="middle" fill="#2b2222" >A</text>
<text x="612.35" y="337.3" font-size="9.8" text-anchor="middle" fill="#2b2222" >S</text>
<text x="623.48" y="337.3" font-size="9.8" text-anchor="middle" fill="#2b2222" >O</text>
<text x="634.61" y="337.3" font-size="9.8" text-anchor="middle" fill="#2b2222" >N</text>
<text x="645.73" y="337.3" font-size="9.8" text-anchor="middle" fill="#2b2222" >D</text>
<text x="657.04" y="337.3" font-size="9.8" text-anchor="middle" fill="#2b2222" >J</text>
<text x="667.8" y="337.3" font-size="9.8" text-anchor="middle" fill="#2b2222" >F</text>
<text x="678.56" y="337.3" font-size="9.8" text-anchor="middle" fill="#2b2222" >M</text>
<line x1="63.8" y1="340.5" x2="116.9" y2="340.5" stroke="#555555" stroke-width="1" />
<line x1="125.2" y1="340.5" x2="244.7" y2="340.5" stroke="#555555" stroke-width="1" />
<line x1="258.1" y1="340.5" x2="378" y2="340.5" stroke="#555555" stroke-width="1" />
<line x1="391.1" y1="340.5" x2="511" y2="340.5" stroke="#555555" stroke-width="1" />
<line x1="524.6" y1="340.5" x2="644.9" y2="340.5" stroke="#555555" stroke-width="1" />
<line x1="655.1" y1="340.5" x2="690" y2="340.5" stroke="#555555" stroke-width="1" />
<text x="88.9" y="349.8" font-size="9.6" text-anchor="middle" fill="#2b2222" >2017</text>
<text x="183.7" y="349.8" font-size="9.6" text-anchor="middle" fill="#2b2222" >2018</text>
<text x="316.6" y="349.8" font-size="9.6" text-anchor="middle" fill="#2b2222" >2019</text>
<text x="450" y="349.8" font-size="9.6" text-anchor="middle" fill="#2b2222" >2020</text>
<text x="583" y="349.8" font-size="9.6" text-anchor="middle" fill="#2b2222" >2021</text>
<text x="669.4" y="349.8" font-size="9.6" text-anchor="middle" fill="#2b2222" >2022</text>
<text x="367.6" y="361.8" font-size="9.8" text-anchor="middle" fill="#2b2222" >Calendar day</text>
<text transform="translate(15.4 132.1) rotate(-90)" font-size="9.8" text-anchor="middle" fill="#2b2222">Leaf emergence day (biweekly cohorts)</text>
<text transform="translate(14.8 298.9) rotate(-90)" font-size="9.75" text-anchor="middle" fill="#2b2222">Reproductive phenology</text>
<text transform="translate(26.0 296.0) rotate(-90)" font-size="9.9" text-anchor="middle" fill="#2b2222">(number /30 plants)</text>
<text x="-0.3" y="8.8" font-size="10.5" font-weight="bold" fill="#000">a</text>
<text x="0.3" y="380.8" font-size="10.2" font-weight="bold" fill="#000">b</text>
<text x="-0.4" y="521.1" font-size="10.2" font-weight="bold" fill="#000">c</text>
<line x1="601.4" y1="26.4" x2="630.7" y2="26.4" stroke="#e8a951" stroke-width="1.4" />
<line x1="601.4" y1="39.4" x2="630.7" y2="39.4" stroke="#5282bb" stroke-width="1.4" />
<text x="636.6" y="29.8" font-size="9.5" text-anchor="start" fill="#2b2222" >GS</text>
<text x="636.6" y="42.8" font-size="9.5" text-anchor="start" fill="#2b2222" >OW</text>
<line x1="585.8" y1="269.6" x2="604.3" y2="269.6" stroke="#000" stroke-width="1.3" stroke-dasharray="5.9,6.6"/>
<line x1="585.8" y1="279.1" x2="607.7" y2="279.1" stroke="#000" stroke-width="1.3" />
<line x1="586" y1="289.3" x2="607.7" y2="289.3" stroke="#000" stroke-width="1.3" stroke-dasharray="1.2,4"/>
<text x="613.1" y="272.4" font-size="9.7" text-anchor="start" fill="#2b2222" >Bolting</text>
<text x="613.1" y="282" font-size="9.7" text-anchor="start" fill="#2b2222" >Flowering</text>
<text x="613.1" y="292.1" font-size="9.7" text-anchor="start" fill="#2b2222" >Reversion</text>
<polyline points="139,324.2 139.3,316.5 141.2,299.4 142.6,306 144.1,311.8 145,296.5 146,284.1 146.6,272.2 147.4,280.3 147.9,285 148.8,292.7 150.8,296.5 152.2,303.2 152.7,308 153.5,317 154.5,321 155.5,316 156.3,322 157.4,317 158.3,323 159,324.2" fill="none" stroke="#000" stroke-width="1.2" stroke-linejoin="round" stroke-dasharray="3.2,2.2"/>
<polyline points="148.8,324.2 152,319 154,313 157.5,295 159.6,277.4 162.2,314.2 164.6,303.7 166.5,316 168.9,324.2" fill="none" stroke="#000" stroke-width="1.2" stroke-linejoin="round" />
<polyline points="168,321 168.4,314.6 169.4,308.9 170.1,302.7 170.5,296.5 171.1,290.8 171.5,285 172,279.3 173.4,281.7 174.5,287.4 175.1,293.2 175.5,298.9 176,305.1 176.4,310.8 177,317 178.6,322.3 183,323 187.7,322.8 189,317.5 190.5,317.5 192,322.8 198,323.5 200.1,320.4 202.5,323.3" fill="none" stroke="#000" stroke-width="1.2" stroke-linejoin="round" stroke-dasharray="1.0,4.6"/>
<polyline points="269.5,323.6 272,316 275,309.1 276.5,300 277.8,288 279,275 279.5,267 280.5,272 281,282 281.5,292 283.5,307 286,316 287.5,322 289,317 290,324" fill="none" stroke="#000" stroke-width="1.2" stroke-linejoin="round" stroke-dasharray="3.2,2.2"/>
<polyline points="284.5,324.1 286.5,316 292,272 294.9,314.1 297.3,303.6 299.6,323.6 302.6,314.1 307.1,324.1" fill="none" stroke="#000" stroke-width="1.2" stroke-linejoin="round" />
<polyline points="303.5,316 304.1,312.1 307.1,308.6 308.3,303.1 309.6,297.1 311.9,293.1 314.1,288 315.1,283 316.1,294.6 316.6,301.1 316.6,306.6 316.9,312.6 317.3,318.6 317.5,323" fill="none" stroke="#000" stroke-width="1.2" stroke-linejoin="round" stroke-dasharray="1.0,4.6"/>
<polyline points="399.2,324 399.5,321.6 400.5,316 402,309 403.5,312 406,305 407.5,310 409,314 410,308 411.5,302 413,295 414,290.6 415,294 416,297 417.5,304 419,314 420,322" fill="none" stroke="#000" stroke-width="1.2" stroke-linejoin="round" stroke-dasharray="3.2,2.2"/>
<polyline points="415,323.6 417.5,315 419.8,293.6 421.3,319.1 422.6,319.1 424.9,288.3 427.6,303.1 430.3,303.1 432.3,309.1 437.1,323.6" fill="none" stroke="#000" stroke-width="1.2" stroke-linejoin="round" />
<polyline points="437.6,318.1 438.3,312.1 438.6,306.1 438.9,300.1 439.1,294.1 439.6,288.6 440.1,282.5 440.8,276.5 442.9,273 443.5,279 443.9,285.2 444.4,291.1 444.9,297.1 445.4,303.1 446.3,308.6 447.3,314.6 448.1,318.1 450.6,311.1 451.9,316.6 452.6,322.6" fill="none" stroke="#000" stroke-width="1.2" stroke-linejoin="round" stroke-dasharray="1.0,4.6"/>
<polyline points="540,321.6 540.5,314 541.5,304 542.5,291 543,295 544.5,306 545.5,300 547,289 547.8,285.5 548.5,299 549,307 549.5,314 550,321 551,324" fill="none" stroke="#000" stroke-width="1.2" stroke-linejoin="round" stroke-dasharray="3.2,2.2"/>
<polyline points="552.5,323.6 555.3,272 558.1,323.6 560.3,298.6 562.6,306.1 565.3,323.6" fill="none" stroke="#000" stroke-width="1.2" stroke-linejoin="round" />
<polyline points="566.1,319.6 566.6,308.1 567.1,296.1 567.6,290.1 568.1,284 568.6,278 568.9,272.5 570.1,284 570.6,290.1 571.1,296.1 571.6,301.6 571.9,307.6 572.3,313.6 572.9,319.1 578.6,322.6 580.1,317.1 581.6,316.6 582.6,322.1" fill="none" stroke="#000" stroke-width="1.2" stroke-linejoin="round" stroke-dasharray="1.0,4.6"/>
<rect x="57.3" y="383.2" width="102.9" height="97.1" fill="none" stroke="#333" stroke-width="1"/>
<line x1="51.5" y1="476.5" x2="57.3" y2="476.5" stroke="#333" stroke-width="1.0" />
<line x1="53.7" y1="454.5" x2="57.3" y2="454.5" stroke="#333" stroke-width="1.0" />
<line x1="51.5" y1="431.5" x2="57.3" y2="431.5" stroke="#333" stroke-width="1.0" />
<line x1="53.7" y1="409.5" x2="57.3" y2="409.5" stroke="#333" stroke-width="1.0" />
<line x1="51.5" y1="386.5" x2="57.3" y2="386.5" stroke="#333" stroke-width="1.0" />
<text x="47.3" y="480.1" font-size="9.4" text-anchor="end" fill="#2b2222" >0.0</text>
<text x="47.3" y="435.15" font-size="9.4" text-anchor="end" fill="#2b2222" >0.5</text>
<text x="47.3" y="390.2" font-size="9.4" text-anchor="end" fill="#2b2222" >1.0</text>
<line x1="61.5" y1="480.3" x2="61.5" y2="486.1" stroke="#333" stroke-width="1.0" />
<text x="61.5" y="494.2" font-size="9.4" text-anchor="middle" fill="#2b2222" >0</text>
<line x1="77.5" y1="480.3" x2="77.5" y2="486.1" stroke="#333" stroke-width="1.0" />
<line x1="93.5" y1="480.3" x2="93.5" y2="486.1" stroke="#333" stroke-width="1.0" />
<text x="93.17" y="494.2" font-size="9.4" text-anchor="middle" fill="#2b2222" >100</text>
<line x1="109.5" y1="480.3" x2="109.5" y2="486.1" stroke="#333" stroke-width="1.0" />
<line x1="124.5" y1="480.3" x2="124.5" y2="486.1" stroke="#333" stroke-width="1.0" />
<text x="124.84" y="494.2" font-size="9.4" text-anchor="middle" fill="#2b2222" >200</text>
<line x1="140.5" y1="480.3" x2="140.5" y2="486.1" stroke="#333" stroke-width="1.0" />
<line x1="156.5" y1="480.3" x2="156.5" y2="486.1" stroke="#333" stroke-width="1.0" />
<text x="156.51" y="494.2" font-size="9.4" text-anchor="middle" fill="#2b2222" >300</text>
<rect x="185.4" y="383.2" width="102.8" height="97.1" fill="none" stroke="#333" stroke-width="1"/>
<line x1="179.6" y1="476.5" x2="185.4" y2="476.5" stroke="#333" stroke-width="1.0" />
<line x1="181.8" y1="454.5" x2="185.4" y2="454.5" stroke="#333" stroke-width="1.0" />
<line x1="179.6" y1="431.5" x2="185.4" y2="431.5" stroke="#333" stroke-width="1.0" />
<line x1="181.8" y1="409.5" x2="185.4" y2="409.5" stroke="#333" stroke-width="1.0" />
<line x1="179.6" y1="386.5" x2="185.4" y2="386.5" stroke="#333" stroke-width="1.0" />
<text x="177.6" y="480.1" font-size="9.4" text-anchor="end" fill="#2b2222" >0.0</text>
<text x="177.6" y="435.15" font-size="9.4" text-anchor="end" fill="#2b2222" >0.5</text>
<text x="177.6" y="390.2" font-size="9.4" text-anchor="end" fill="#2b2222" >1.0</text>
<line x1="189.5" y1="480.3" x2="189.5" y2="486.1" stroke="#333" stroke-width="1.0" />
<text x="189.6" y="494.2" font-size="9.4" text-anchor="middle" fill="#2b2222" >0</text>
<line x1="205.5" y1="480.3" x2="205.5" y2="486.1" stroke="#333" stroke-width="1.0" />
<line x1="221.5" y1="480.3" x2="221.5" y2="486.1" stroke="#333" stroke-width="1.0" />
<text x="221.33" y="494.2" font-size="9.4" text-anchor="middle" fill="#2b2222" >100</text>
<line x1="237.5" y1="480.3" x2="237.5" y2="486.1" stroke="#333" stroke-width="1.0" />
<line x1="253.5" y1="480.3" x2="253.5" y2="486.1" stroke="#333" stroke-width="1.0" />
<text x="253.06" y="494.2" font-size="9.4" text-anchor="middle" fill="#2b2222" >200</text>
<line x1="268.5" y1="480.3" x2="268.5" y2="486.1" stroke="#333" stroke-width="1.0" />
<line x1="284.5" y1="480.3" x2="284.5" y2="486.1" stroke="#333" stroke-width="1.0" />
<text x="284.79" y="494.2" font-size="9.4" text-anchor="middle" fill="#2b2222" >300</text>
<rect x="315" y="383.2" width="102.9" height="97.1" fill="none" stroke="#333" stroke-width="1"/>
<line x1="309.2" y1="476.5" x2="315" y2="476.5" stroke="#333" stroke-width="1.0" />
<line x1="311.4" y1="454.5" x2="315" y2="454.5" stroke="#333" stroke-width="1.0" />
<line x1="309.2" y1="431.5" x2="315" y2="431.5" stroke="#333" stroke-width="1.0" />
<line x1="311.4" y1="409.5" x2="315" y2="409.5" stroke="#333" stroke-width="1.0" />
<line x1="309.2" y1="386.5" x2="315" y2="386.5" stroke="#333" stroke-width="1.0" />
<text x="307.2" y="480.1" font-size="9.4" text-anchor="end" fill="#2b2222" >0.0</text>
<text x="307.2" y="435.15" font-size="9.4" text-anchor="end" fill="#2b2222" >0.5</text>
<text x="307.2" y="390.2" font-size="9.4" text-anchor="end" fill="#2b2222" >1.0</text>
<line x1="318.5" y1="480.3" x2="318.5" y2="486.1" stroke="#333" stroke-width="1.0" />
<text x="318.6" y="494.2" font-size="9.4" text-anchor="middle" fill="#2b2222" >0</text>
<line x1="334.5" y1="480.3" x2="334.5" y2="486.1" stroke="#333" stroke-width="1.0" />
<line x1="350.5" y1="480.3" x2="350.5" y2="486.1" stroke="#333" stroke-width="1.0" />
<text x="350.5" y="494.2" font-size="9.4" text-anchor="middle" fill="#2b2222" >100</text>
<line x1="366.5" y1="480.3" x2="366.5" y2="486.1" stroke="#333" stroke-width="1.0" />
<line x1="382.5" y1="480.3" x2="382.5" y2="486.1" stroke="#333" stroke-width="1.0" />
<text x="382.4" y="494.2" font-size="9.4" text-anchor="middle" fill="#2b2222" >200</text>
<line x1="398.5" y1="480.3" x2="398.5" y2="486.1" stroke="#333" stroke-width="1.0" />
<line x1="414.5" y1="480.3" x2="414.5" y2="486.1" stroke="#333" stroke-width="1.0" />
<text x="414.3" y="494.2" font-size="9.4" text-anchor="middle" fill="#2b2222" >300</text>
<rect x="444.7" y="383.2" width="102.7" height="97.1" fill="none" stroke="#333" stroke-width="1"/>
<line x1="438.9" y1="476.5" x2="444.7" y2="476.5" stroke="#333" stroke-width="1.0" />
<line x1="441.1" y1="454.5" x2="444.7" y2="454.5" stroke="#333" stroke-width="1.0" />
<line x1="438.9" y1="431.5" x2="444.7" y2="431.5" stroke="#333" stroke-width="1.0" />
<line x1="441.1" y1="409.5" x2="444.7" y2="409.5" stroke="#333" stroke-width="1.0" />
<line x1="438.9" y1="386.5" x2="444.7" y2="386.5" stroke="#333" stroke-width="1.0" />
<text x="436.9" y="480.1" font-size="9.4" text-anchor="end" fill="#2b2222" >0.0</text>
<text x="436.9" y="435.15" font-size="9.4" text-anchor="end" fill="#2b2222" >0.5</text>
<text x="436.9" y="390.2" font-size="9.4" text-anchor="end" fill="#2b2222" >1.0</text>
<line x1="447.5" y1="480.3" x2="447.5" y2="486.1" stroke="#333" stroke-width="1.0" />
<text x="447.9" y="494.2" font-size="9.4" text-anchor="middle" fill="#2b2222" >0</text>
<line x1="463.5" y1="480.3" x2="463.5" y2="486.1" stroke="#333" stroke-width="1.0" />
<line x1="479.5" y1="480.3" x2="479.5" y2="486.1" stroke="#333" stroke-width="1.0" />
<text x="479.83" y="494.2" font-size="9.4" text-anchor="middle" fill="#2b2222" >100</text>
<line x1="495.5" y1="480.3" x2="495.5" y2="486.1" stroke="#333" stroke-width="1.0" />
<line x1="511.5" y1="480.3" x2="511.5" y2="486.1" stroke="#333" stroke-width="1.0" />
<text x="511.76" y="494.2" font-size="9.4" text-anchor="middle" fill="#2b2222" >200</text>
<line x1="527.5" y1="480.3" x2="527.5" y2="486.1" stroke="#333" stroke-width="1.0" />
<line x1="543.5" y1="480.3" x2="543.5" y2="486.1" stroke="#333" stroke-width="1.0" />
<text x="543.69" y="494.2" font-size="9.4" text-anchor="middle" fill="#2b2222" >300</text>
<rect x="573.4" y="381.4" width="103.6" height="99.1" fill="none" stroke="#333" stroke-width="1"/>
<line x1="567.6" y1="476.5" x2="573.4" y2="476.5" stroke="#333" stroke-width="1.0" />
<line x1="569.8" y1="453.5" x2="573.4" y2="453.5" stroke="#333" stroke-width="1.0" />
<line x1="567.6" y1="431.5" x2="573.4" y2="431.5" stroke="#333" stroke-width="1.0" />
<line x1="569.8" y1="408.5" x2="573.4" y2="408.5" stroke="#333" stroke-width="1.0" />
<line x1="567.6" y1="385.5" x2="573.4" y2="385.5" stroke="#333" stroke-width="1.0" />
<text x="565.6" y="479.9" font-size="9.4" text-anchor="end" fill="#2b2222" >0.0</text>
<text x="565.6" y="434.4" font-size="9.4" text-anchor="end" fill="#2b2222" >0.5</text>
<text x="565.6" y="388.9" font-size="9.4" text-anchor="end" fill="#2b2222" >1.0</text>
<line x1="576.5" y1="480.5" x2="576.5" y2="486.3" stroke="#333" stroke-width="1.0" />
<text x="576.7" y="494.2" font-size="9.4" text-anchor="middle" fill="#2b2222" >0</text>
<line x1="592.5" y1="480.5" x2="592.5" y2="486.3" stroke="#333" stroke-width="1.0" />
<line x1="608.5" y1="480.5" x2="608.5" y2="486.3" stroke="#333" stroke-width="1.0" />
<text x="608.73" y="494.2" font-size="9.4" text-anchor="middle" fill="#2b2222" >100</text>
<line x1="624.5" y1="480.5" x2="624.5" y2="486.3" stroke="#333" stroke-width="1.0" />
<line x1="640.5" y1="480.5" x2="640.5" y2="486.3" stroke="#333" stroke-width="1.0" />
<text x="640.76" y="494.2" font-size="9.4" text-anchor="middle" fill="#2b2222" >200</text>
<line x1="656.5" y1="480.5" x2="656.5" y2="486.3" stroke="#333" stroke-width="1.0" />
<line x1="672.5" y1="480.5" x2="672.5" y2="486.3" stroke="#333" stroke-width="1.0" />
<text x="672.79" y="494.2" font-size="9.4" text-anchor="middle" fill="#2b2222" >300</text>
<text x="56.9" y="378.5" font-size="10.0" text-anchor="start" fill="#2b2222" >20–Nov–2018</text>
<text x="185" y="378.5" font-size="10.0" text-anchor="start" fill="#2b2222" >29–Jan–2019</text>
<text x="314.6" y="378.5" font-size="10.0" text-anchor="start" fill="#2b2222" >3–Jun–2019</text>
<text x="444.3" y="378.5" font-size="10.0" text-anchor="start" fill="#2b2222" >16–Aug–2019</text>
<text x="573" y="377.7" font-size="9.6" text-anchor="start" fill="#2b2222" >Merged 2019-cohorts</text>
<text x="157.3" y="397.4" font-size="9.6" text-anchor="end" fill="#2b2222">L<tspan font-size="6.8" dx="0.9" dy="2.2">50</tspan><tspan dx="0.6" dy="-2.2">=</tspan><tspan dx="0.5"> 159.8</tspan></text>
<text x="157.3" y="409.8" font-size="9.6" text-anchor="end" fill="#2b2222">α<tspan dx="4.5">= 5.6</tspan></text>
<text x="157.3" y="421.7" font-size="9.6" text-anchor="end" fill="#2b2222">β<tspan dx="-0.6">=</tspan><tspan dx="1.4"> 170.5</tspan></text>
<text x="285.3" y="397.4" font-size="9.6" text-anchor="end" fill="#2b2222">L<tspan font-size="6.8" dx="0.9" dy="2.2">50</tspan><tspan dx="0.6" dy="-2.2">=</tspan><tspan dx="0.5"> 102.8</tspan></text>
<text x="285.3" y="409.8" font-size="9.6" text-anchor="end" fill="#2b2222">α<tspan dx="4.0">= 10.9</tspan></text>
<text x="285.3" y="421.7" font-size="9.6" text-anchor="end" fill="#2b2222">β<tspan dx="-0.6">=</tspan><tspan dx="1.4"> 106.3</tspan></text>
<text x="415" y="397.4" font-size="9.6" text-anchor="end" fill="#2b2222">L<tspan font-size="6.8" dx="0.9" dy="2.2">50</tspan><tspan dx="0.6" dy="-2.2">=</tspan><tspan dx="0.5"> 44.7</tspan></text>
<text x="415" y="409.8" font-size="9.6" text-anchor="end" fill="#2b2222">α<tspan dx="6.4">= 1.4</tspan></text>
<text x="415" y="421.7" font-size="9.6" text-anchor="end" fill="#2b2222">β<tspan dx="-0.6">=</tspan><tspan dx="1.4"> 57.9</tspan></text>
<text x="544.5" y="397.4" font-size="9.6" text-anchor="end" fill="#2b2222">L<tspan font-size="6.8" dx="0.9" dy="2.2">50</tspan><tspan dx="0.6" dy="-2.2">=</tspan><tspan dx="0.5"> 56.1</tspan></text>
<text x="544.5" y="409.8" font-size="9.6" text-anchor="end" fill="#2b2222">α<tspan dx="6.9">= 1.9</tspan></text>
<text x="544.5" y="421.7" font-size="9.6" text-anchor="end" fill="#2b2222">β<tspan dx="-0.6">=</tspan><tspan dx="1.4"> 68.0</tspan></text>
<polyline points="61.2,386.8 67.5,386.8 67.5,389.3 76.5,389.3 76.5,392.3 96.4,392.3 96.4,395 100.6,395 100.6,398 102.9,398 102.9,401 105.1,401 105.1,404 107.4,404 107.4,410 109.6,410 109.6,416.1 112.6,416.1 112.6,419.1 114.1,419.1 114.1,427.4 116.8,427.4 116.8,459.7 118.7,459.7 118.7,468.7 121.4,468.7 121.4,471 124.7,471 124.7,473.2 126.9,473.2 126.9,475 128,475 128,476.5" fill="none" stroke="#2a7ab8" stroke-width="1.3" stroke-linejoin="round" stroke-linejoin="miter"/>
<polyline points="189.2,386.8 211.8,386.8 211.8,390.8 216.3,390.8 216.3,398.3 218.4,398.3 218.4,410.4 220.3,410.4 220.3,422.4 222.6,422.4 222.6,453.4 224.8,453.4 224.8,469.5 227.4,469.5 227.4,477" fill="none" stroke="#2a7ab8" stroke-width="1.3" stroke-linejoin="round" stroke-linejoin="miter"/>
<polyline points="318.5,386.8 320.3,386.8 320.3,399.5 323.3,399.5 323.3,404.1 325.3,404.1 325.3,410.4 327.5,410.4 327.5,414.6 329.8,414.6 329.8,418.8 332,418.8 332,429.6 334,429.6 334,440.1 336.6,440.1 336.6,442.4 338.8,442.4 338.8,451.4 341.8,451.4 341.8,461.5 345.3,461.5 345.3,470.2 350.1,470.2 350.1,472.5 367.8,472.5 367.8,474.4 383.5,474.4 383.5,477" fill="none" stroke="#dc9a2c" stroke-width="1.3" stroke-linejoin="round" stroke-linejoin="miter"/>
<polyline points="448.3,386.8 452,386.8 452,398 456.5,398 456.5,404.1 461,404.1 461,413.1 463.3,413.1 463.3,421.3 465.3,421.3 465.3,424.4 467.1,424.4 467.1,441.6 469.8,441.6 469.8,444.7 471.9,444.7 471.9,453.4 474.3,453.4 474.3,459.4 476.4,459.4 476.4,462.4 478.8,462.4 478.8,468.4 482.8,468.4 482.8,471 489.3,471 489.3,474 494.1,474 494.1,476.5" fill="none" stroke="#dc9a2c" stroke-width="1.3" stroke-linejoin="round" stroke-linejoin="miter"/>
<polyline points="576.7,385.5 578.63,385.5 578.63,390.05 579.36,390.05 579.36,394.6 581.52,394.6 581.52,399.15 582.12,399.15 582.12,403.7 582.37,403.7 582.37,408.25 584.09,408.25 584.09,412.8 584.2,412.8 584.2,417.35 585.69,417.35 585.69,421.9 585.79,421.9 585.79,426.45 586.64,426.45 586.64,431 588.14,431 588.14,435.55 589.25,435.55 589.25,440.1 589.88,440.1 589.88,444.65 590.41,444.65 590.41,449.2 592.5,449.2 592.5,453.75 594.88,453.75 594.88,458.3 595.05,458.3 595.05,462.85 596.03,462.85 596.03,467.4 598.65,467.4 598.65,471.95 604.64,471.95 604.64,476.5" fill="none" stroke="#dc9a2c" stroke-width="1.0" stroke-linejoin="round" stroke-opacity="0.72"/>
<polyline points="576.7,385.5 579.52,385.5 579.52,390.05 580.87,390.05 580.87,394.6 583.34,394.6 583.34,399.15 585.1,399.15 585.1,403.7 585.56,403.7 585.56,408.25 586.7,408.25 586.7,412.8 587.53,412.8 587.53,417.35 587.79,417.35 587.79,421.9 588.65,421.9 588.65,426.45 588.76,426.45 588.76,431 589.32,431 589.32,435.55 590.24,435.55 590.24,440.1 591.75,440.1 591.75,444.65 592.04,444.65 592.04,449.2 592.6,449.2 592.6,453.75 594.03,453.75 594.03,458.3 594.71,458.3 594.71,462.85 595.41,462.85 595.41,467.4 599.33,467.4 599.33,471.95 601.59,471.95 601.59,476.5" fill="none" stroke="#dc9a2c" stroke-width="1.0" stroke-linejoin="round" stroke-opacity="0.72"/>
<polyline points="576.7,385.5 578.96,385.5 578.96,390.05 581.94,390.05 581.94,394.6 582.68,394.6 582.68,399.15 582.75,399.15 582.75,403.7 584.49,403.7 584.49,408.25 585.63,408.25 585.63,412.8 586.31,412.8 586.31,417.35 587.71,417.35 587.71,421.9 588.18,421.9 588.18,426.45 589.52,426.45 589.52,431 589.6,431 589.6,435.55 592.32,435.55 592.32,440.1 593.86,440.1 593.86,444.65 594.58,444.65 594.58,449.2 596.62,449.2 596.62,453.75 597.19,453.75 597.19,458.3 600.26,458.3 600.26,462.85 602.2,462.85 602.2,467.4 605.64,467.4 605.64,471.95 609.96,471.95 609.96,476.5" fill="none" stroke="#dc9a2c" stroke-width="1.0" stroke-linejoin="round" stroke-opacity="0.72"/>
<polyline points="576.7,385.5 581.3,385.5 581.3,390.05 583.87,390.05 583.87,394.6 584.65,394.6 584.65,399.15 587.35,399.15 587.35,403.7 588.26,403.7 588.26,408.25 589.98,408.25 589.98,412.8 590.25,412.8 590.25,417.35 590.5,417.35 590.5,421.9 591.33,421.9 591.33,426.45 592.28,426.45 592.28,431 592.75,431 592.75,435.55 594.04,435.55 594.04,440.1 594.3,440.1 594.3,444.65 595.08,444.65 595.08,449.2 595.88,449.2 595.88,453.75 598.16,453.75 598.16,458.3 598.81,458.3 598.81,462.85 599.83,462.85 599.83,467.4 602.18,467.4 602.18,471.95 607.8,471.95 607.8,476.5" fill="none" stroke="#dc9a2c" stroke-width="1.0" stroke-linejoin="round" stroke-opacity="0.72"/>
<polyline points="576.7,385.5 578.59,385.5 578.59,390.05 581.45,390.05 581.45,394.6 582.57,394.6 582.57,399.15 583.46,399.15 583.46,403.7 583.96,403.7 583.96,408.25 585.08,408.25 585.08,412.8 586.13,412.8 586.13,417.35 588.91,417.35 588.91,421.9 589.22,421.9 589.22,426.45 590.43,426.45 590.43,431 590.59,431 590.59,435.55 592.14,435.55 592.14,440.1 593.61,440.1 593.61,444.65 596.2,444.65 596.2,449.2 598.55,449.2 598.55,453.75 599,453.75 599,458.3 599.82,458.3 599.82,462.85 605.27,462.85 605.27,467.4 608.84,467.4 608.84,471.95 622.11,471.95 622.11,476.5" fill="none" stroke="#dc9a2c" stroke-width="1.0" stroke-linejoin="round" stroke-opacity="0.72"/>
<polyline points="576.7,385.5 582.45,385.5 582.45,390.05 585.46,390.05 585.46,394.6 586.5,394.6 586.5,399.15 587.19,399.15 587.19,403.7 590.03,403.7 590.03,408.25 590.71,408.25 590.71,412.8 591.83,412.8 591.83,417.35 592.55,417.35 592.55,421.9 592.57,421.9 592.57,426.45 593.45,426.45 593.45,431 593.7,431 593.7,435.55 595.34,435.55 595.34,440.1 595.67,440.1 595.67,444.65 596.24,444.65 596.24,449.2 597.5,449.2 597.5,453.75 598.4,453.75 598.4,458.3 600.03,458.3 600.03,462.85 600.43,462.85 600.43,467.4 601.69,467.4 601.69,471.95 604.39,471.95 604.39,476.5" fill="none" stroke="#dc9a2c" stroke-width="1.0" stroke-linejoin="round" stroke-opacity="0.72"/>
<polyline points="576.7,385.5 577.74,385.5 577.74,390.05 582.01,390.05 582.01,394.6 582.4,394.6 582.4,399.15 582.57,399.15 582.57,403.7 584.16,403.7 584.16,408.25 585.81,408.25 585.81,412.8 587.18,412.8 587.18,417.35 587.73,417.35 587.73,421.9 591.44,421.9 591.44,426.45 593,426.45 593,431 593.39,431 593.39,435.55 594.59,435.55 594.59,440.1 594.66,440.1 594.66,444.65 596.36,444.65 596.36,449.2 599.27,449.2 599.27,453.75 601,453.75 601,458.3 605.57,458.3 605.57,462.85 607.59,462.85 607.59,467.4 607.83,467.4 607.83,471.95 626.38,471.95 626.38,476.5" fill="none" stroke="#dc9a2c" stroke-width="1.0" stroke-linejoin="round" stroke-opacity="0.72"/>
<polyline points="576.7,385.5 580.12,385.5 580.12,390.05 580.98,390.05 580.98,394.6 585.06,394.6 585.06,399.15 587.89,399.15 587.89,403.7 588.76,403.7 588.76,408.25 589.4,408.25 589.4,412.8 589.45,412.8 589.45,417.35 590.8,417.35 590.8,421.9 591.38,421.9 591.38,426.45 594.06,426.45 594.06,431 594.53,431 594.53,435.55 596.27,435.55 596.27,440.1 596.36,440.1 596.36,444.65 597.17,444.65 597.17,449.2 600.48,449.2 600.48,453.75 602.93,453.75 602.93,458.3 604.37,458.3 604.37,462.85 606.73,462.85 606.73,467.4 611.15,467.4 611.15,471.95 615.04,471.95 615.04,476.5" fill="none" stroke="#dc9a2c" stroke-width="1.0" stroke-linejoin="round" stroke-opacity="0.72"/>
<polyline points="576.7,385.5 578.33,385.5 578.33,390.05 579.01,390.05 579.01,394.6 581.63,394.6 581.63,399.15 584.55,399.15 584.55,403.7 586.04,403.7 586.04,408.25 588.99,408.25 588.99,412.8 590.95,412.8 590.95,417.35 591.26,417.35 591.26,421.9 594.03,421.9 594.03,426.45 595.69,426.45 595.69,431 596.46,431 596.46,435.55 597.12,435.55 597.12,440.1 597.5,440.1 597.5,444.65 599.19,444.65 599.19,449.2 600.87,449.2 600.87,453.75 602.9,453.75 602.9,458.3 607.92,458.3 607.92,462.85 614.48,462.85 614.48,467.4 620.87,467.4 620.87,471.95 622.46,471.95 622.46,476.5" fill="none" stroke="#dc9a2c" stroke-width="1.0" stroke-linejoin="round" stroke-opacity="0.72"/>
<polyline points="576.7,385.5 580.33,385.5 580.33,390.05 585.95,390.05 585.95,394.6 588.82,394.6 588.82,399.15 589.86,399.15 589.86,403.7 591.15,403.7 591.15,408.25 591.61,408.25 591.61,412.8 591.98,412.8 591.98,417.35 594.92,417.35 594.92,421.9 595.04,421.9 595.04,426.45 597.48,426.45 597.48,431 598.74,431 598.74,435.55 599.22,435.55 599.22,440.1 600.03,440.1 600.03,444.65 603.26,444.65 603.26,449.2 603.47,449.2 603.47,453.75 604,453.75 604,458.3 604.94,458.3 604.94,462.85 606.94,462.85 606.94,467.4 617.09,467.4 617.09,471.95 619.56,471.95 619.56,476.5" fill="none" stroke="#dc9a2c" stroke-width="1.0" stroke-linejoin="round" stroke-opacity="0.72"/>
<polyline points="576.7,385.5 582.25,385.5 582.25,390.05 582.72,390.05 582.72,394.6 583.25,394.6 583.25,399.15 585.96,399.15 585.96,403.7 585.97,403.7 585.97,408.25 587.19,408.25 587.19,412.8 592.57,412.8 592.57,417.35 592.95,417.35 592.95,421.9 594.11,421.9 594.11,426.45 597.17,426.45 597.17,431 597.52,431 597.52,435.55 601.05,435.55 601.05,440.1 601.9,440.1 601.9,444.65 602.92,444.65 602.92,449.2 604.33,449.2 604.33,453.75 607.07,453.75 607.07,458.3 609.58,458.3 609.58,462.85 616.6,462.85 616.6,467.4 617.7,467.4 617.7,471.95 628.9,471.95 628.9,476.5" fill="none" stroke="#dc9a2c" stroke-width="1.0" stroke-linejoin="round" stroke-opacity="0.72"/>
<polyline points="576.7,385.5 578.19,385.5 578.19,390.05 581.8,390.05 581.8,394.6 584.55,394.6 584.55,399.15 587.5,399.15 587.5,403.7 587.78,403.7 587.78,408.25 591.28,408.25 591.28,412.8 591.28,412.8 591.28,417.35 593.12,417.35 593.12,421.9 594.45,421.9 594.45,426.45 594.83,426.45 594.83,431 598.1,431 598.1,435.55 598.83,435.55 598.83,440.1 599.95,440.1 599.95,444.65 605.21,444.65 605.21,449.2 606.47,449.2 606.47,453.75 609.88,453.75 609.88,458.3 615.62,458.3 615.62,462.85 618.41,462.85 618.41,467.4 620.9,467.4 620.9,471.95 636.18,471.95 636.18,476.5" fill="none" stroke="#dc9a2c" stroke-width="1.0" stroke-linejoin="round" stroke-opacity="0.72"/>
<polyline points="576.7,385.5 580.27,385.5 580.27,390.05 585.82,390.05 585.82,394.6 586.44,394.6 586.44,399.15 588.69,399.15 588.69,403.7 592.41,403.7 592.41,408.25 592.98,408.25 592.98,412.8 594.65,412.8 594.65,417.35 596.76,417.35 596.76,421.9 598.52,421.9 598.52,426.45 598.7,426.45 598.7,431 600.54,431 600.54,435.55 601.64,435.55 601.64,440.1 603.19,440.1 603.19,444.65 605.56,444.65 605.56,449.2 606.31,449.2 606.31,453.75 608.63,453.75 608.63,458.3 610.57,458.3 610.57,462.85 617.4,462.85 617.4,467.4 619.64,467.4 619.64,471.95 626.63,471.95 626.63,476.5" fill="none" stroke="#dc9a2c" stroke-width="1.0" stroke-linejoin="round" stroke-opacity="0.72"/>
<polyline points="576.7,385.5 584.8,385.5 584.8,390.05 589.98,390.05 589.98,394.6 590.1,394.6 590.1,399.15 591.31,399.15 591.31,403.7 591.76,403.7 591.76,408.25 594.31,408.25 594.31,412.8 594.46,412.8 594.46,417.35 596.23,417.35 596.23,421.9 596.95,421.9 596.95,426.45 599.77,426.45 599.77,431 601.24,431 601.24,435.55 601.82,435.55 601.82,440.1 602.76,440.1 602.76,444.65 604.75,444.65 604.75,449.2 605.6,449.2 605.6,453.75 605.95,453.75 605.95,458.3 610.34,458.3 610.34,462.85 611.28,462.85 611.28,467.4 613.58,467.4 613.58,471.95 619.77,471.95 619.77,476.5" fill="none" stroke="#dc9a2c" stroke-width="1.0" stroke-linejoin="round" stroke-opacity="0.72"/>
<polyline points="576.7,385.5 585.12,385.5 585.12,390.05 585.15,390.05 585.15,394.6 586.61,394.6 586.61,399.15 588.78,399.15 588.78,403.7 590.99,403.7 590.99,408.25 591.99,408.25 591.99,412.8 593.1,412.8 593.1,417.35 595.21,417.35 595.21,421.9 597.27,421.9 597.27,426.45 598.38,426.45 598.38,431 601,431 601,435.55 602.21,435.55 602.21,440.1 602.24,440.1 602.24,444.65 605.39,444.65 605.39,449.2 608.91,449.2 608.91,453.75 610.46,453.75 610.46,458.3 610.64,458.3 610.64,462.85 622.07,462.85 622.07,467.4 626.03,467.4 626.03,471.95 633,471.95 633,476.5" fill="none" stroke="#dc9a2c" stroke-width="1.0" stroke-linejoin="round" stroke-opacity="0.72"/>
<polyline points="576.7,385.5 578.2,385.5 578.2,390.05 583.3,390.05 583.3,394.6 583.8,394.6 583.8,399.15 584.75,399.15 584.75,403.7 588.15,403.7 588.15,408.25 592.23,408.25 592.23,412.8 593.05,412.8 593.05,417.35 593.69,417.35 593.69,421.9 594.44,421.9 594.44,426.45 600.1,426.45 600.1,431 600.44,431 600.44,435.55 602.29,435.55 602.29,440.1 603.35,440.1 603.35,444.65 604.43,444.65 604.43,449.2 611.31,449.2 611.31,453.75 612.52,453.75 612.52,458.3 613.04,458.3 613.04,462.85 628.95,462.85 628.95,467.4 631.54,467.4 631.54,471.95 647.2,471.95 647.2,476.5" fill="none" stroke="#dc9a2c" stroke-width="1.0" stroke-linejoin="round" stroke-opacity="0.72"/>
<polyline points="576.7,385.5 578.23,385.5 578.23,390.05 584.66,390.05 584.66,394.6 584.71,394.6 584.71,399.15 586.34,399.15 586.34,403.7 589.56,403.7 589.56,408.25 592.26,408.25 592.26,412.8 593.45,412.8 593.45,417.35 593.63,417.35 593.63,421.9 597.71,421.9 597.71,426.45 598.38,426.45 598.38,431 599.89,431 599.89,435.55 602.47,435.55 602.47,440.1 604.24,440.1 604.24,444.65 607.79,444.65 607.79,449.2 611.5,449.2 611.5,453.75 614.8,453.75 614.8,458.3 623.28,458.3 623.28,462.85 623.97,462.85 623.97,467.4 633.8,467.4 633.8,471.95 636.13,471.95 636.13,476.5" fill="none" stroke="#dc9a2c" stroke-width="1.0" stroke-linejoin="round" stroke-opacity="0.72"/>
<polyline points="576.7,385.5 591.09,385.5 591.09,390.05 592.43,390.05 592.43,394.6 599.87,394.6 599.87,399.15 600.61,399.15 600.61,403.7 600.78,403.7 600.78,408.25 602.57,408.25 602.57,412.8 603.57,412.8 603.57,417.35 604.39,417.35 604.39,421.9 605.7,421.9 605.7,426.45 605.76,426.45 605.76,431 606.59,431 606.59,435.55 607.85,435.55 607.85,440.1 607.89,440.1 607.89,444.65 608.78,444.65 608.78,449.2 609.89,449.2 609.89,453.75 610.89,453.75 610.89,458.3 611.4,458.3 611.4,462.85 613.34,462.85 613.34,467.4 614.57,467.4 614.57,471.95 616.81,471.95 616.81,476.5" fill="none" stroke="#2a7ab8" stroke-width="1.0" stroke-linejoin="round" stroke-opacity="0.72"/>
<polyline points="576.7,385.5 593.43,385.5 593.43,390.05 596.82,390.05 596.82,394.6 600,394.6 600,399.15 604.36,399.15 604.36,403.7 604.57,403.7 604.57,408.25 605.3,408.25 605.3,412.8 606.18,412.8 606.18,417.35 608.76,417.35 608.76,421.9 609.64,421.9 609.64,426.45 610.05,426.45 610.05,431 610.1,431 610.1,435.55 610.81,435.55 610.81,440.1 611.68,440.1 611.68,444.65 612.79,444.65 612.79,449.2 613.01,449.2 613.01,453.75 614.46,453.75 614.46,458.3 614.99,458.3 614.99,462.85 618.35,462.85 618.35,467.4 621.11,467.4 621.11,471.95 621.21,471.95 621.21,476.5" fill="none" stroke="#2a7ab8" stroke-width="1.0" stroke-linejoin="round" stroke-opacity="0.72"/>
<polyline points="576.7,385.5 594.23,385.5 594.23,390.05 600.95,390.05 600.95,394.6 601.5,394.6 601.5,399.15 606.24,399.15 606.24,403.7 608.24,403.7 608.24,408.25 609.71,408.25 609.71,412.8 610.06,412.8 610.06,417.35 611.86,417.35 611.86,421.9 612.08,421.9 612.08,426.45 613.58,426.45 613.58,431 614.18,431 614.18,435.55 615.91,435.55 615.91,440.1 616.05,440.1 616.05,444.65 617,444.65 617,449.2 618.72,449.2 618.72,453.75 619.62,453.75 619.62,458.3 621.9,458.3 621.9,462.85 623.21,462.85 623.21,467.4 626.61,467.4 626.61,471.95 629.45,471.95 629.45,476.5" fill="none" stroke="#2a7ab8" stroke-width="1.0" stroke-linejoin="round" stroke-opacity="0.72"/>
<polyline points="576.7,385.5 600.72,385.5 600.72,390.05 606.35,390.05 606.35,394.6 610.39,394.6 610.39,399.15 612.03,399.15 612.03,403.7 613.8,403.7 613.8,408.25 614.22,408.25 614.22,412.8 614.69,412.8 614.69,417.35 617.03,417.35 617.03,421.9 618,421.9 618,426.45 618.3,426.45 618.3,431 619.32,431 619.32,435.55 619.78,435.55 619.78,440.1 620.27,440.1 620.27,444.65 621.34,444.65 621.34,449.2 622.15,449.2 622.15,453.75 623.83,453.75 623.83,458.3 624.85,458.3 624.85,462.85 626.29,462.85 626.29,467.4 627.02,467.4 627.02,471.95 630.03,471.95 630.03,476.5" fill="none" stroke="#2a7ab8" stroke-width="1.0" stroke-linejoin="round" stroke-opacity="0.72"/>
<polyline points="576.7,385.5 601.55,385.5 601.55,390.05 603.82,390.05 603.82,394.6 610.05,394.6 610.05,399.15 613.51,399.15 613.51,403.7 614.16,403.7 614.16,408.25 617.74,408.25 617.74,412.8 618.1,412.8 618.1,417.35 619.29,417.35 619.29,421.9 620.23,421.9 620.23,426.45 621.26,426.45 621.26,431 621.59,431 621.59,435.55 621.74,435.55 621.74,440.1 624.15,440.1 624.15,444.65 624.95,444.65 624.95,449.2 625.33,449.2 625.33,453.75 626.39,453.75 626.39,458.3 627.34,458.3 627.34,462.85 627.84,462.85 627.84,467.4 631.1,467.4 631.1,471.95 631.51,471.95 631.51,476.5" fill="none" stroke="#2a7ab8" stroke-width="1.0" stroke-linejoin="round" stroke-opacity="0.72"/>
<polyline points="576.7,385.5 601.99,385.5 601.99,390.05 603.56,390.05 603.56,394.6 610.69,394.6 610.69,399.15 613.8,399.15 613.8,403.7 614.1,403.7 614.1,408.25 615.17,408.25 615.17,412.8 617.25,412.8 617.25,417.35 619.53,417.35 619.53,421.9 621.24,421.9 621.24,426.45 622.13,426.45 622.13,431 623.1,431 623.1,435.55 623.59,435.55 623.59,440.1 624.7,440.1 624.7,444.65 626.44,444.65 626.44,449.2 629.59,449.2 629.59,453.75 629.68,453.75 629.68,458.3 631.81,458.3 631.81,462.85 632.44,462.85 632.44,467.4 634.08,467.4 634.08,471.95 638.52,471.95 638.52,476.5" fill="none" stroke="#2a7ab8" stroke-width="1.0" stroke-linejoin="round" stroke-opacity="0.72"/>
<polyline points="576.7,385.5 612,385.5 612,390.05 612.4,390.05 612.4,394.6 617.59,394.6 617.59,399.15 619.46,399.15 619.46,403.7 621.21,403.7 621.21,408.25 621.47,408.25 621.47,412.8 624.45,412.8 624.45,417.35 625.24,417.35 625.24,421.9 627.32,421.9 627.32,426.45 627.63,426.45 627.63,431 628.56,431 628.56,435.55 629.43,435.55 629.43,440.1 631.33,440.1 631.33,444.65 632.5,444.65 632.5,449.2 632.77,449.2 632.77,453.75 633.13,453.75 633.13,458.3 634.14,458.3 634.14,462.85 636.98,462.85 636.98,467.4 638.48,467.4 638.48,471.95 642.58,471.95 642.58,476.5" fill="none" stroke="#2a7ab8" stroke-width="1.0" stroke-linejoin="round" stroke-opacity="0.72"/>
<polyline points="576.7,385.5 605.53,385.5 605.53,390.05 611.59,390.05 611.59,394.6 617.32,394.6 617.32,399.15 617.98,399.15 617.98,403.7 622.19,403.7 622.19,408.25 623,408.25 623,412.8 623.25,412.8 623.25,417.35 627.26,417.35 627.26,421.9 627.41,421.9 627.41,426.45 627.43,426.45 627.43,431 628.74,431 628.74,435.55 632.02,435.55 632.02,440.1 633.38,440.1 633.38,444.65 634.36,444.65 634.36,449.2 635.32,449.2 635.32,453.75 637.79,453.75 637.79,458.3 639.51,458.3 639.51,462.85 642.17,462.85 642.17,467.4 644.95,467.4 644.95,471.95 652.46,471.95 652.46,476.5" fill="none" stroke="#2a7ab8" stroke-width="1.0" stroke-linejoin="round" stroke-opacity="0.72"/>
<polyline points="576.7,385.5 619.6,385.5 619.6,390.05 621.22,390.05 621.22,394.6 623.7,394.6 623.7,399.15 624.66,399.15 624.66,403.7 625.98,403.7 625.98,408.25 627.61,408.25 627.61,412.8 630.74,412.8 630.74,417.35 630.76,417.35 630.76,421.9 631.27,421.9 631.27,426.45 632.54,426.45 632.54,431 633.2,431 633.2,435.55 633.67,435.55 633.67,440.1 634.82,440.1 634.82,444.65 637.34,444.65 637.34,449.2 637.69,449.2 637.69,453.75 639.52,453.75 639.52,458.3 640.34,458.3 640.34,462.85 640.88,462.85 640.88,467.4 643.63,467.4 643.63,471.95 644.17,471.95 644.17,476.5" fill="none" stroke="#2a7ab8" stroke-width="1.0" stroke-linejoin="round" stroke-opacity="0.72"/>
<polyline points="576.7,385.5 618.51,385.5 618.51,390.05 622,390.05 622,394.6 623.85,394.6 623.85,399.15 628.1,399.15 628.1,403.7 630.26,403.7 630.26,408.25 630.37,408.25 630.37,412.8 631.83,412.8 631.83,417.35 632.87,417.35 632.87,421.9 636.06,421.9 636.06,426.45 636.55,426.45 636.55,431 639.06,431 639.06,435.55 640.13,435.55 640.13,440.1 640.33,440.1 640.33,444.65 640.96,444.65 640.96,449.2 644.27,449.2 644.27,453.75 645.79,453.75 645.79,458.3 647.43,458.3 647.43,462.85 648.84,462.85 648.84,467.4 650.97,467.4 650.97,471.95 658.38,471.95 658.38,476.5" fill="none" stroke="#2a7ab8" stroke-width="1.0" stroke-linejoin="round" stroke-opacity="0.72"/>
<line x1="636" y1="391" x2="653.9" y2="391" stroke="#ebbd73" stroke-width="2.0" />
<line x1="636" y1="404.1" x2="653.9" y2="404.1" stroke="#7fa5d2" stroke-width="2.0" />
<text x="657.3" y="394" font-size="9.4" text-anchor="start" fill="#2b2222" >GS</text>
<text x="657.3" y="407.1" font-size="9.4" text-anchor="start" fill="#2b2222" >OW</text>
<text transform="translate(25.8 432.2) rotate(-90)" font-size="9.8" text-anchor="middle" fill="#2b2222">Leaf survival rate</text>
<text x="365.2" y="507.1" font-size="9.8" text-anchor="middle" fill="#2b2222" >Days after leaf emergence</text>
<path d="M56.5,519.5 H678.5 V605.5 H56.5 Z" fill="none" stroke="#555555" stroke-width="1"/>
<line x1="52.4" y1="605.5" x2="56.5" y2="605.5" stroke="#555555" stroke-width="1.0" />
<text x="50.4" y="607.6" font-size="9.4" text-anchor="end" fill="#2b2222" >0</text>
<line x1="52.4" y1="569.5" x2="56.5" y2="569.5" stroke="#555555" stroke-width="1.0" />
<text x="50.4" y="571.6" font-size="9.4" text-anchor="end" fill="#2b2222" >5</text>
<line x1="52.4" y1="533.5" x2="56.5" y2="533.5" stroke="#555555" stroke-width="1.0" />
<text x="50.4" y="535.6" font-size="9.4" text-anchor="end" fill="#2b2222" >10</text>
<line x1="81.5" y1="605.5" x2="81.5" y2="610.3" stroke="#555555" stroke-width="1.0" />
<line x1="93.5" y1="605.5" x2="93.5" y2="610.3" stroke="#555555" stroke-width="1.0" />
<line x1="105.5" y1="605.5" x2="105.5" y2="610.3" stroke="#555555" stroke-width="1.0" />
<line x1="117.5" y1="605.5" x2="117.5" y2="610.3" stroke="#555555" stroke-width="1.0" />
<line x1="129.5" y1="605.5" x2="129.5" y2="610.3" stroke="#555555" stroke-width="1.0" />
<line x1="140.5" y1="605.5" x2="140.5" y2="610.3" stroke="#555555" stroke-width="1.0" />
<line x1="152.5" y1="605.5" x2="152.5" y2="610.3" stroke="#555555" stroke-width="1.0" />
<line x1="164.5" y1="605.5" x2="164.5" y2="610.3" stroke="#555555" stroke-width="1.0" />
<line x1="176.5" y1="605.5" x2="176.5" y2="610.3" stroke="#555555" stroke-width="1.0" />
<line x1="188.5" y1="605.5" x2="188.5" y2="610.3" stroke="#555555" stroke-width="1.0" />
<line x1="200.5" y1="605.5" x2="200.5" y2="610.3" stroke="#555555" stroke-width="1.0" />
<line x1="212.5" y1="605.5" x2="212.5" y2="610.3" stroke="#555555" stroke-width="1.0" />
<line x1="224.5" y1="605.5" x2="224.5" y2="610.3" stroke="#555555" stroke-width="1.0" />
<line x1="236.5" y1="605.5" x2="236.5" y2="610.3" stroke="#555555" stroke-width="1.0" />
<line x1="248.5" y1="605.5" x2="248.5" y2="610.3" stroke="#555555" stroke-width="1.0" />
<line x1="260.5" y1="605.5" x2="260.5" y2="610.3" stroke="#555555" stroke-width="1.0" />
<line x1="272.5" y1="605.5" x2="272.5" y2="610.3" stroke="#555555" stroke-width="1.0" />
<line x1="283.5" y1="605.5" x2="283.5" y2="610.3" stroke="#555555" stroke-width="1.0" />
<line x1="296.5" y1="605.5" x2="296.5" y2="610.3" stroke="#555555" stroke-width="1.0" />
<line x1="307.5" y1="605.5" x2="307.5" y2="610.3" stroke="#555555" stroke-width="1.0" />
<line x1="319.5" y1="605.5" x2="319.5" y2="610.3" stroke="#555555" stroke-width="1.0" />
<line x1="331.5" y1="605.5" x2="331.5" y2="610.3" stroke="#555555" stroke-width="1.0" />
<line x1="343.5" y1="605.5" x2="343.5" y2="610.3" stroke="#555555" stroke-width="1.0" />
<line x1="356.5" y1="605.5" x2="356.5" y2="610.3" stroke="#555555" stroke-width="1.0" />
<line x1="367.5" y1="605.5" x2="367.5" y2="610.3" stroke="#555555" stroke-width="1.0" />
<line x1="379.5" y1="605.5" x2="379.5" y2="610.3" stroke="#555555" stroke-width="1.0" />
<line x1="391.5" y1="605.5" x2="391.5" y2="610.3" stroke="#555555" stroke-width="1.0" />
<line x1="403.5" y1="605.5" x2="403.5" y2="610.3" stroke="#555555" stroke-width="1.0" />
<line x1="416.5" y1="605.5" x2="416.5" y2="610.3" stroke="#555555" stroke-width="1.0" />
<line x1="427.5" y1="605.5" x2="427.5" y2="610.3" stroke="#555555" stroke-width="1.0" />
<line x1="439.5" y1="605.5" x2="439.5" y2="610.3" stroke="#555555" stroke-width="1.0" />
<line x1="451.5" y1="605.5" x2="451.5" y2="610.3" stroke="#555555" stroke-width="1.0" />
<line x1="463.5" y1="605.5" x2="463.5" y2="610.3" stroke="#555555" stroke-width="1.0" />
<line x1="475.5" y1="605.5" x2="475.5" y2="610.3" stroke="#555555" stroke-width="1.0" />
<line x1="487.5" y1="605.5" x2="487.5" y2="610.3" stroke="#555555" stroke-width="1.0" />
<line x1="499.5" y1="605.5" x2="499.5" y2="610.3" stroke="#555555" stroke-width="1.0" />
<line x1="511.5" y1="605.5" x2="511.5" y2="610.3" stroke="#555555" stroke-width="1.0" />
<line x1="523.5" y1="605.5" x2="523.5" y2="610.3" stroke="#555555" stroke-width="1.0" />
<line x1="535.5" y1="605.5" x2="535.5" y2="610.3" stroke="#555555" stroke-width="1.0" />
<line x1="547.5" y1="605.5" x2="547.5" y2="610.3" stroke="#555555" stroke-width="1.0" />
<line x1="559.5" y1="605.5" x2="559.5" y2="610.3" stroke="#555555" stroke-width="1.0" />
<line x1="570.5" y1="605.5" x2="570.5" y2="610.3" stroke="#555555" stroke-width="1.0" />
<line x1="582.5" y1="605.5" x2="582.5" y2="610.3" stroke="#555555" stroke-width="1.0" />
<line x1="594.5" y1="605.5" x2="594.5" y2="610.3" stroke="#555555" stroke-width="1.0" />
<line x1="606.5" y1="605.5" x2="606.5" y2="610.3" stroke="#555555" stroke-width="1.0" />
<line x1="618.5" y1="605.5" x2="618.5" y2="610.3" stroke="#555555" stroke-width="1.0" />
<line x1="630.5" y1="605.5" x2="630.5" y2="610.3" stroke="#555555" stroke-width="1.0" />
<line x1="642.5" y1="605.5" x2="642.5" y2="610.3" stroke="#555555" stroke-width="1.0" />
<line x1="654.5" y1="605.5" x2="654.5" y2="610.3" stroke="#555555" stroke-width="1.0" />
<text x="87.68" y="618" font-size="9.6" text-anchor="middle" fill="#2b2222" >O</text>
<text x="99.63" y="618" font-size="9.6" text-anchor="middle" fill="#2b2222" >N</text>
<text x="111.59" y="618" font-size="9.6" text-anchor="middle" fill="#2b2222" >D</text>
<text x="123.75" y="618" font-size="9.6" text-anchor="middle" fill="#2b2222" >J</text>
<text x="135.31" y="618" font-size="9.6" text-anchor="middle" fill="#2b2222" >F</text>
<text x="146.88" y="618" font-size="9.6" text-anchor="middle" fill="#2b2222" >M</text>
<text x="158.84" y="618" font-size="9.6" text-anchor="middle" fill="#2b2222" >A</text>
<text x="170.79" y="618" font-size="9.6" text-anchor="middle" fill="#2b2222" >M</text>
<text x="182.75" y="618" font-size="9.6" text-anchor="middle" fill="#2b2222" >J</text>
<text x="194.71" y="618" font-size="9.6" text-anchor="middle" fill="#2b2222" >J</text>
<text x="206.86" y="618" font-size="9.6" text-anchor="middle" fill="#2b2222" >A</text>
<text x="218.82" y="618" font-size="9.6" text-anchor="middle" fill="#2b2222" >S</text>
<text x="230.78" y="618" font-size="9.6" text-anchor="middle" fill="#2b2222" >O</text>
<text x="242.74" y="618" font-size="9.6" text-anchor="middle" fill="#2b2222" >N</text>
<text x="254.69" y="618" font-size="9.6" text-anchor="middle" fill="#2b2222" >D</text>
<text x="266.85" y="618" font-size="9.6" text-anchor="middle" fill="#2b2222" >J</text>
<text x="278.41" y="618" font-size="9.6" text-anchor="middle" fill="#2b2222" >F</text>
<text x="289.98" y="618" font-size="9.6" text-anchor="middle" fill="#2b2222" >M</text>
<text x="301.94" y="618" font-size="9.6" text-anchor="middle" fill="#2b2222" >A</text>
<text x="313.9" y="618" font-size="9.6" text-anchor="middle" fill="#2b2222" >M</text>
<text x="325.85" y="618" font-size="9.6" text-anchor="middle" fill="#2b2222" >J</text>
<text x="337.81" y="618" font-size="9.6" text-anchor="middle" fill="#2b2222" >J</text>
<text x="349.97" y="618" font-size="9.6" text-anchor="middle" fill="#2b2222" >A</text>
<text x="361.92" y="618" font-size="9.6" text-anchor="middle" fill="#2b2222" >S</text>
<text x="373.88" y="618" font-size="9.6" text-anchor="middle" fill="#2b2222" >O</text>
<text x="385.84" y="618" font-size="9.6" text-anchor="middle" fill="#2b2222" >N</text>
<text x="397.8" y="618" font-size="9.6" text-anchor="middle" fill="#2b2222" >D</text>
<text x="409.95" y="618" font-size="9.6" text-anchor="middle" fill="#2b2222" >J</text>
<text x="421.71" y="618" font-size="9.6" text-anchor="middle" fill="#2b2222" >F</text>
<text x="433.47" y="618" font-size="9.6" text-anchor="middle" fill="#2b2222" >M</text>
<text x="445.43" y="618" font-size="9.6" text-anchor="middle" fill="#2b2222" >A</text>
<text x="457.39" y="618" font-size="9.6" text-anchor="middle" fill="#2b2222" >M</text>
<text x="469.35" y="618" font-size="9.6" text-anchor="middle" fill="#2b2222" >J</text>
<text x="481.31" y="618" font-size="9.6" text-anchor="middle" fill="#2b2222" >J</text>
<text x="493.46" y="618" font-size="9.6" text-anchor="middle" fill="#2b2222" >A</text>
<text x="505.42" y="618" font-size="9.6" text-anchor="middle" fill="#2b2222" >S</text>
<text x="517.37" y="618" font-size="9.6" text-anchor="middle" fill="#2b2222" >O</text>
<text x="529.33" y="618" font-size="9.6" text-anchor="middle" fill="#2b2222" >N</text>
<text x="541.29" y="618" font-size="9.6" text-anchor="middle" fill="#2b2222" >D</text>
<text x="553.44" y="618" font-size="9.6" text-anchor="middle" fill="#2b2222" >J</text>
<text x="565.01" y="618" font-size="9.6" text-anchor="middle" fill="#2b2222" >F</text>
<text x="576.58" y="618" font-size="9.6" text-anchor="middle" fill="#2b2222" >M</text>
<text x="588.53" y="618" font-size="9.6" text-anchor="middle" fill="#2b2222" >A</text>
<text x="600.49" y="618" font-size="9.6" text-anchor="middle" fill="#2b2222" >M</text>
<text x="612.45" y="618" font-size="9.6" text-anchor="middle" fill="#2b2222" >J</text>
<text x="624.41" y="618" font-size="9.6" text-anchor="middle" fill="#2b2222" >J</text>
<text x="636.56" y="618" font-size="9.6" text-anchor="middle" fill="#2b2222" >A</text>
<text x="648.52" y="618" font-size="9.6" text-anchor="middle" fill="#2b2222" >S</text>
<line x1="82.3" y1="621.5" x2="115.9" y2="621.5" stroke="#555555" stroke-width="1.0" />
<text x="99.3" y="630.8" font-size="9.8" text-anchor="middle" fill="#2b2222" >2017</text>
<line x1="124.7" y1="621.5" x2="253.7" y2="621.5" stroke="#555555" stroke-width="1.0" />
<text x="180.6" y="630.8" font-size="9.8" text-anchor="middle" fill="#2b2222" >2018</text>
<line x1="268" y1="621.5" x2="396.9" y2="621.5" stroke="#555555" stroke-width="1.0" />
<text x="323.5" y="630.8" font-size="9.8" text-anchor="middle" fill="#2b2222" >2019</text>
<line x1="411.2" y1="621.5" x2="540.4" y2="621.5" stroke="#555555" stroke-width="1.0" />
<text x="467.4" y="630.8" font-size="9.8" text-anchor="middle" fill="#2b2222" >2020</text>
<line x1="555" y1="621.5" x2="651.5" y2="621.5" stroke="#555555" stroke-width="1.0" />
<text x="610" y="630.8" font-size="9.8" text-anchor="middle" fill="#2b2222" >2021</text>
<text x="365.8" y="644" font-size="9.7" text-anchor="middle" fill="#2b2222" >Leaf emergence day (biweekly cohorts)</text>
<text transform="translate(14.4 634.4) rotate(-90)" font-size="9.65" fill="#2b2222">α, synchronisation of</text>
<text transform="translate(26.3 634.4) rotate(-90)" font-size="9.7" fill="#2b2222">senescence within cohorts</text>
<circle cx="84.8" cy="588.4" r="2.8" fill="none" stroke="#7a7a7a" stroke-width="1.7"/>
<circle cx="90.3" cy="590.5" r="2.8" fill="none" stroke="#7a7a7a" stroke-width="1.7"/>
<circle cx="95.79" cy="584.4" r="2.8" fill="none" stroke="#7a7a7a" stroke-width="1.7"/>
<circle cx="101.28" cy="575.4" r="2.8" fill="none" stroke="#7a7a7a" stroke-width="1.7"/>
<circle cx="106.78" cy="559.3" r="2.8" fill="none" stroke="#7a7a7a" stroke-width="1.7"/>
<circle cx="112.28" cy="557.8" r="2.8" fill="none" stroke="#7a7a7a" stroke-width="1.7"/>
<circle cx="117.77" cy="568.6" r="2.8" fill="none" stroke="#7a7a7a" stroke-width="1.7"/>
<circle cx="123.27" cy="578.9" r="2.8" fill="none" stroke="#7a7a7a" stroke-width="1.7"/>
<circle cx="134.25" cy="578.1" r="2.8" fill="none" stroke="#dc9a2c" stroke-width="1.7"/>
<circle cx="139.75" cy="582.2" r="2.8" fill="none" stroke="#dc9a2c" stroke-width="1.7"/>
<circle cx="145.25" cy="586.3" r="2.8" fill="none" stroke="#dc9a2c" stroke-width="1.7"/>
<circle cx="150.74" cy="587" r="2.8" fill="none" stroke="#dc9a2c" stroke-width="1.7"/>
<circle cx="156.24" cy="588.8" r="2.8" fill="none" stroke="#dc9a2c" stroke-width="1.7"/>
<circle cx="161.73" cy="589.2" r="2.8" fill="none" stroke="#dc9a2c" stroke-width="1.7"/>
<circle cx="167.22" cy="590.5" r="2.8" fill="none" stroke="#dc9a2c" stroke-width="1.7"/>
<circle cx="172.72" cy="588.4" r="2.8" fill="none" stroke="#dc9a2c" stroke-width="1.7"/>
<circle cx="178.22" cy="589.3" r="2.8" fill="none" stroke="#dc9a2c" stroke-width="1.7"/>
<circle cx="183.71" cy="590.7" r="2.8" fill="none" stroke="#dc9a2c" stroke-width="1.7"/>
<circle cx="189.2" cy="590.1" r="2.8" fill="none" stroke="#dc9a2c" stroke-width="1.7"/>
<circle cx="194.7" cy="589.3" r="2.8" fill="none" stroke="#dc9a2c" stroke-width="1.7"/>
<circle cx="200.19" cy="583.5" r="2.8" fill="none" stroke="#dc9a2c" stroke-width="1.7"/>
<circle cx="205.69" cy="588.3" r="2.8" fill="none" stroke="#dc9a2c" stroke-width="1.7"/>
<circle cx="211.19" cy="592.7" r="2.8" fill="none" stroke="#dc9a2c" stroke-width="1.7"/>
<circle cx="216.68" cy="593" r="2.8" fill="none" stroke="#dc9a2c" stroke-width="1.7"/>
<circle cx="222.18" cy="595.9" r="2.8" fill="none" stroke="#dc9a2c" stroke-width="1.7"/>
<circle cx="227.67" cy="578.7" r="2.8" fill="none" stroke="#1670ae" stroke-width="1.7"/>
<circle cx="233.17" cy="568.5" r="2.8" fill="none" stroke="#1670ae" stroke-width="1.7"/>
<circle cx="238.66" cy="558.2" r="2.8" fill="none" stroke="#1670ae" stroke-width="1.7"/>
<circle cx="244.15" cy="564.5" r="2.8" fill="none" stroke="#1670ae" stroke-width="1.7"/>
<circle cx="249.65" cy="579.9" r="2.8" fill="none" stroke="#1670ae" stroke-width="1.7"/>
<circle cx="255.14" cy="564.5" r="2.8" fill="none" stroke="#1670ae" stroke-width="1.7"/>
<circle cx="260.64" cy="583.2" r="2.8" fill="none" stroke="#1670ae" stroke-width="1.7"/>
<circle cx="266.13" cy="579.1" r="2.8" fill="none" stroke="#1670ae" stroke-width="1.7"/>
<circle cx="271.63" cy="526.6" r="2.8" fill="none" stroke="#1670ae" stroke-width="1.7"/>
<circle cx="277.12" cy="584.2" r="2.8" fill="none" stroke="#1670ae" stroke-width="1.7"/>
<circle cx="282.62" cy="583.9" r="2.8" fill="none" stroke="#dc9a2c" stroke-width="1.7"/>
<circle cx="288.12" cy="586" r="2.8" fill="none" stroke="#dc9a2c" stroke-width="1.7"/>
<circle cx="293.61" cy="590.1" r="2.8" fill="none" stroke="#dc9a2c" stroke-width="1.7"/>
<circle cx="299.11" cy="590.1" r="2.8" fill="none" stroke="#dc9a2c" stroke-width="1.7"/>
<circle cx="304.6" cy="595.6" r="2.8" fill="none" stroke="#dc9a2c" stroke-width="1.7"/>
<circle cx="310.1" cy="592" r="2.8" fill="none" stroke="#dc9a2c" stroke-width="1.7"/>
<circle cx="315.59" cy="591.1" r="2.8" fill="none" stroke="#dc9a2c" stroke-width="1.7"/>
<circle cx="321.08" cy="594.9" r="2.8" fill="none" stroke="#dc9a2c" stroke-width="1.7"/>
<circle cx="326.58" cy="588.3" r="2.8" fill="none" stroke="#dc9a2c" stroke-width="1.7"/>
<circle cx="332.07" cy="591.5" r="2.8" fill="none" stroke="#dc9a2c" stroke-width="1.7"/>
<circle cx="337.57" cy="581.3" r="2.8" fill="none" stroke="#dc9a2c" stroke-width="1.7"/>
<circle cx="343.06" cy="590.8" r="2.8" fill="none" stroke="#dc9a2c" stroke-width="1.7"/>
<circle cx="348.56" cy="591.3" r="2.8" fill="none" stroke="#dc9a2c" stroke-width="1.7"/>
<circle cx="354.06" cy="591.7" r="2.8" fill="none" stroke="#dc9a2c" stroke-width="1.7"/>
<circle cx="359.55" cy="582.8" r="2.8" fill="none" stroke="#dc9a2c" stroke-width="1.7"/>
<circle cx="365.05" cy="582.8" r="2.8" fill="none" stroke="#dc9a2c" stroke-width="1.7"/>
<circle cx="370.54" cy="581.6" r="2.8" fill="none" stroke="#1670ae" stroke-width="1.7"/>
<circle cx="376.04" cy="571.1" r="2.8" fill="none" stroke="#1670ae" stroke-width="1.7"/>
<circle cx="381.53" cy="576.9" r="2.8" fill="none" stroke="#1670ae" stroke-width="1.7"/>
<circle cx="387.03" cy="531" r="2.8" fill="none" stroke="#1670ae" stroke-width="1.7"/>
<circle cx="392.52" cy="557.2" r="2.8" fill="none" stroke="#1670ae" stroke-width="1.7"/>
<circle cx="398.02" cy="572.1" r="2.8" fill="none" stroke="#1670ae" stroke-width="1.7"/>
<circle cx="403.51" cy="575.5" r="2.8" fill="none" stroke="#1670ae" stroke-width="1.7"/>
<circle cx="409" cy="582" r="2.8" fill="none" stroke="#1670ae" stroke-width="1.7"/>
<circle cx="414.5" cy="567.4" r="2.8" fill="none" stroke="#1670ae" stroke-width="1.7"/>
<circle cx="420" cy="582.8" r="2.8" fill="none" stroke="#1670ae" stroke-width="1.7"/>
<circle cx="425.49" cy="579.1" r="2.8" fill="none" stroke="#dc9a2c" stroke-width="1.7"/>
<circle cx="430.99" cy="582.5" r="2.8" fill="none" stroke="#dc9a2c" stroke-width="1.7"/>
<circle cx="436.48" cy="591.9" r="2.8" fill="none" stroke="#dc9a2c" stroke-width="1.7"/>
<circle cx="441.98" cy="587.6" r="2.8" fill="none" stroke="#dc9a2c" stroke-width="1.7"/>
<circle cx="447.47" cy="587.4" r="2.8" fill="none" stroke="#dc9a2c" stroke-width="1.7"/>
<circle cx="452.97" cy="591.8" r="2.8" fill="none" stroke="#dc9a2c" stroke-width="1.7"/>
<circle cx="458.46" cy="594.7" r="2.8" fill="none" stroke="#dc9a2c" stroke-width="1.7"/>
<circle cx="463.96" cy="593.6" r="2.8" fill="none" stroke="#dc9a2c" stroke-width="1.7"/>
<circle cx="469.45" cy="591.8" r="2.8" fill="none" stroke="#dc9a2c" stroke-width="1.7"/>
<circle cx="474.94" cy="593.3" r="2.8" fill="none" stroke="#dc9a2c" stroke-width="1.7"/>
<circle cx="480.44" cy="593.3" r="2.8" fill="none" stroke="#dc9a2c" stroke-width="1.7"/>
<circle cx="485.94" cy="592.6" r="2.8" fill="none" stroke="#dc9a2c" stroke-width="1.7"/>
<circle cx="491.43" cy="590.4" r="2.8" fill="none" stroke="#dc9a2c" stroke-width="1.7"/>
<circle cx="496.93" cy="594.7" r="2.8" fill="none" stroke="#dc9a2c" stroke-width="1.7"/>
<circle cx="502.42" cy="592.3" r="2.8" fill="none" stroke="#dc9a2c" stroke-width="1.7"/>
<circle cx="507.92" cy="595.5" r="2.8" fill="none" stroke="#dc9a2c" stroke-width="1.7"/>
<circle cx="513.41" cy="591.1" r="2.8" fill="none" stroke="#1670ae" stroke-width="1.7"/>
<circle cx="518.9" cy="591.3" r="2.8" fill="none" stroke="#1670ae" stroke-width="1.7"/>
<circle cx="524.4" cy="581.9" r="2.8" fill="none" stroke="#1670ae" stroke-width="1.7"/>
<circle cx="529.89" cy="587.6" r="2.8" fill="none" stroke="#1670ae" stroke-width="1.7"/>
<circle cx="535.39" cy="585.2" r="2.8" fill="none" stroke="#1670ae" stroke-width="1.7"/>
<circle cx="540.88" cy="582" r="2.8" fill="none" stroke="#1670ae" stroke-width="1.7"/>
<circle cx="546.38" cy="578.1" r="2.8" fill="none" stroke="#1670ae" stroke-width="1.7"/>
<circle cx="557.37" cy="577.3" r="2.8" fill="none" stroke="#1670ae" stroke-width="1.7"/>
<circle cx="562.87" cy="588.3" r="2.8" fill="none" stroke="#1670ae" stroke-width="1.7"/>
<circle cx="568.36" cy="586.4" r="2.8" fill="none" stroke="#dc9a2c" stroke-width="1.7"/>
<circle cx="573.86" cy="589.4" r="2.8" fill="none" stroke="#dc9a2c" stroke-width="1.7"/>
<circle cx="579.35" cy="592.7" r="2.8" fill="none" stroke="#dc9a2c" stroke-width="1.7"/>
<circle cx="584.85" cy="592.3" r="2.8" fill="none" stroke="#dc9a2c" stroke-width="1.7"/>
<circle cx="590.34" cy="591" r="2.8" fill="none" stroke="#dc9a2c" stroke-width="1.7"/>
<circle cx="595.84" cy="590.5" r="2.8" fill="none" stroke="#dc9a2c" stroke-width="1.7"/>
<circle cx="601.33" cy="596.4" r="2.8" fill="none" stroke="#dc9a2c" stroke-width="1.7"/>
<circle cx="606.82" cy="593.4" r="2.8" fill="none" stroke="#dc9a2c" stroke-width="1.7"/>
<circle cx="612.32" cy="589.4" r="2.8" fill="none" stroke="#dc9a2c" stroke-width="1.7"/>
<circle cx="617.81" cy="593.2" r="2.8" fill="none" stroke="#dc9a2c" stroke-width="1.7"/>
<circle cx="623.31" cy="587.9" r="2.8" fill="none" stroke="#dc9a2c" stroke-width="1.7"/>
<circle cx="628.8" cy="587" r="2.8" fill="none" stroke="#dc9a2c" stroke-width="1.7"/>
<circle cx="634.3" cy="593.5" r="2.8" fill="none" stroke="#dc9a2c" stroke-width="1.7"/>
<circle cx="639.79" cy="594.3" r="2.8" fill="none" stroke="#dc9a2c" stroke-width="1.7"/>
<circle cx="645.29" cy="585.1" r="2.8" fill="none" stroke="#dc9a2c" stroke-width="1.7"/>
<circle cx="650.78" cy="594.9" r="2.8" fill="none" stroke="#dc9a2c" stroke-width="1.7"/>
<circle cx="651.1" cy="527.2" r="2.8" fill="none" stroke="#dc9a2c" stroke-width="1.7"/>
<circle cx="651.1" cy="539.8" r="2.8" fill="none" stroke="#1670ae" stroke-width="1.7"/>
<text x="657.6" y="530.6" font-size="9.4" text-anchor="start" fill="#2b2222" >GS</text>
<text x="657.6" y="543.2" font-size="9.4" text-anchor="start" fill="#2b2222" >OW</text>
</svg>
</body></html>
